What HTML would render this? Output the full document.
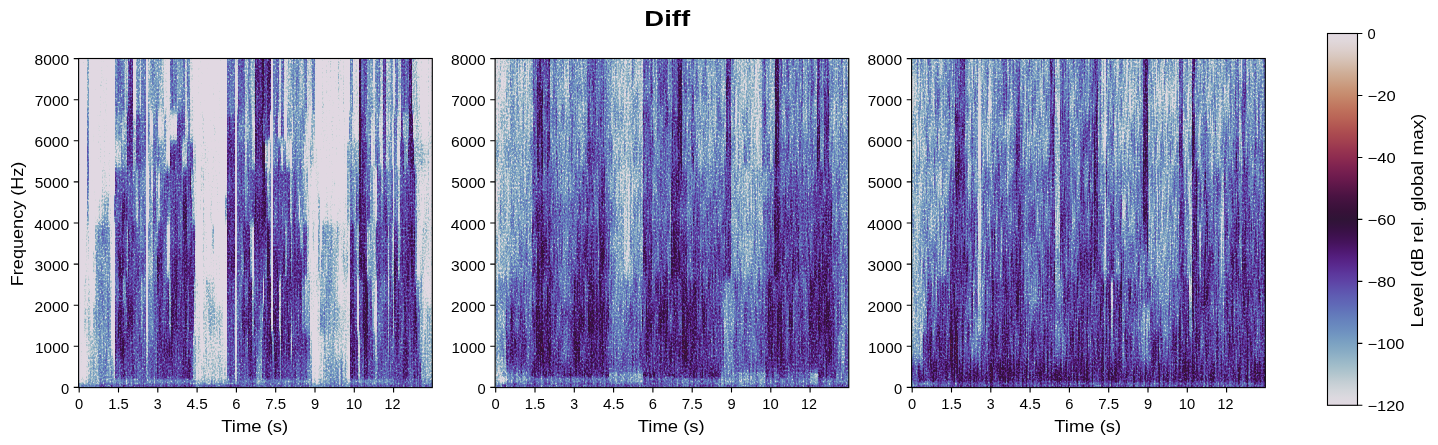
<!DOCTYPE html>
<html><head><meta charset="utf-8"><title>Diff</title>
<style>
html,body{margin:0;padding:0;background:#fff;overflow:hidden}
svg{display:block}
text{font-family:"Liberation Sans",sans-serif;fill:#000;opacity:0.995}
.t10{font-size:14.15px}
.t12{font-size:16.97px}
.tt{font-size:22.60px;font-weight:bold}
.ln{stroke:#000;stroke-width:1.11;fill:none}
</style></head>
<body>
<svg width="1438" height="445" viewBox="0 0 1438 445">
<defs>
<linearGradient id="cb" x1="0" y1="0" x2="0" y2="1">
<stop offset="0.0000" stop-color="#e2d9e2"/><stop offset="0.0208" stop-color="#e0d7da"/><stop offset="0.0417" stop-color="#ddd0ce"/><stop offset="0.0625" stop-color="#d8c7be"/><stop offset="0.0833" stop-color="#d4bcac"/><stop offset="0.1042" stop-color="#cfaf99"/><stop offset="0.1250" stop-color="#cca389"/><stop offset="0.1458" stop-color="#c99679"/><stop offset="0.1667" stop-color="#c68a6d"/><stop offset="0.1875" stop-color="#c27c63"/><stop offset="0.2083" stop-color="#be6f5b"/><stop offset="0.2292" stop-color="#b96356"/><stop offset="0.2500" stop-color="#b25652"/><stop offset="0.2708" stop-color="#aa4a50"/><stop offset="0.2917" stop-color="#a24050"/><stop offset="0.3125" stop-color="#983550"/><stop offset="0.3333" stop-color="#8e2c50"/><stop offset="0.3542" stop-color="#812450"/><stop offset="0.3750" stop-color="#741e4f"/><stop offset="0.3958" stop-color="#67194c"/><stop offset="0.4167" stop-color="#581647"/><stop offset="0.4375" stop-color="#4a1342"/><stop offset="0.4583" stop-color="#3f123d"/><stop offset="0.4792" stop-color="#361138"/><stop offset="0.5000" stop-color="#2f1436"/><stop offset="0.5208" stop-color="#351140"/><stop offset="0.5417" stop-color="#3d114d"/><stop offset="0.5625" stop-color="#45135c"/><stop offset="0.5833" stop-color="#4e186f"/><stop offset="0.6042" stop-color="#552081"/><stop offset="0.6250" stop-color="#592a8f"/><stop offset="0.6458" stop-color="#5c379c"/><stop offset="0.6667" stop-color="#5e43a5"/><stop offset="0.6875" stop-color="#5e51ad"/><stop offset="0.7083" stop-color="#5f5eb3"/><stop offset="0.7292" stop-color="#6069b7"/><stop offset="0.7500" stop-color="#6276ba"/><stop offset="0.7708" stop-color="#6682bd"/><stop offset="0.7917" stop-color="#6b8cbf"/><stop offset="0.8125" stop-color="#7297c1"/><stop offset="0.8333" stop-color="#7ca2c2"/><stop offset="0.8542" stop-color="#87abc4"/><stop offset="0.8750" stop-color="#95b5c7"/><stop offset="0.8958" stop-color="#a3beca"/><stop offset="0.9167" stop-color="#b3c6ce"/><stop offset="0.9375" stop-color="#c4ced4"/><stop offset="0.9583" stop-color="#d1d5da"/><stop offset="0.9792" stop-color="#dcd9df"/><stop offset="1.0000" stop-color="#e2d9e2"/>
</linearGradient>
<filter id="spec0" x="0" y="0" width="1" height="1" color-interpolation-filters="sRGB">
<feGaussianBlur in="SourceGraphic" stdDeviation="0.6 5" result="b0"/>
<feGaussianBlur in="b0" stdDeviation="5 0" result="bb"/>
<feComposite in="b0" in2="bb" operator="arithmetic" k1="0" k2="1.15" k3="-0.15" k4="0" result="b"/>
<feTurbulence type="fractalNoise" baseFrequency="0.53 0.02" numOctaves="2" seed="7" result="t1"/>
<feColorMatrix in="t1" type="matrix" values="1 0 0 0 0  1 0 0 0 0  1 0 0 0 0  0 0 0 0 1" result="s1"/>
<feTurbulence type="fractalNoise" baseFrequency="0.61 0.47" numOctaves="2" seed="11" result="t2"/>
<feColorMatrix in="t2" type="matrix" values="0 1 0 0 0  0 1 0 0 0  0 1 0 0 0  0 0 0 0 1" result="s2a"/>
<feComponentTransfer in="s2a" result="s2"><feFuncR type="table" tableValues="0.000 0.000 0.000 0.000 0.000 0.000 0.000 0.000 0.000 0.080 0.165 0.256 0.321 0.376 0.432 0.474 0.513 0.556 0.591 0.630 0.661 0.694 0.725 0.750 0.775 0.796 0.816 0.839 0.858 0.878 0.901 0.921 0.941 0.962 0.980 1.000 1.000 1.000 1.000 1.000 1.000"/><feFuncG type="table" tableValues="0.000 0.000 0.000 0.000 0.000 0.000 0.000 0.000 0.000 0.080 0.165 0.256 0.321 0.376 0.432 0.474 0.513 0.556 0.591 0.630 0.661 0.694 0.725 0.750 0.775 0.796 0.816 0.839 0.858 0.878 0.901 0.921 0.941 0.962 0.980 1.000 1.000 1.000 1.000 1.000 1.000"/><feFuncB type="table" tableValues="0.000 0.000 0.000 0.000 0.000 0.000 0.000 0.000 0.000 0.080 0.165 0.256 0.321 0.376 0.432 0.474 0.513 0.556 0.591 0.630 0.661 0.694 0.725 0.750 0.775 0.796 0.816 0.839 0.858 0.878 0.901 0.921 0.941 0.962 0.980 1.000 1.000 1.000 1.000 1.000 1.000"/></feComponentTransfer>
<feComposite in="b" in2="s1" operator="arithmetic" k1="0" k2="1" k3="0.3" k4="-0.15" result="c1"/>
<feComposite in="c1" in2="s2" operator="arithmetic" k1="0" k2="1" k3="0.3819" k4="-0.2431" result="c2"/>
<feComponentTransfer in="c2"><feFuncR type="table" tableValues="0.886 0.886 0.886 0.886 0.886 0.886 0.886 0.886 0.886 0.886 0.886 0.886 0.886 0.875 0.861 0.844 0.824 0.800 0.773 0.745 0.715 0.685 0.650 0.621 0.594 0.568 0.543 0.520 0.499 0.479 0.461 0.445 0.431 0.416 0.405 0.397 0.390 0.384 0.380 0.377 0.374 0.373 0.371 0.370 0.369 0.368 0.366 0.363 0.359 0.354 0.348 0.340 0.327 0.314 0.299 0.283 0.267 0.250 0.234 0.220 0.208 0.198 0.185 0.198 0.211 0.226 0.244 0.264 0.287 0.310 0.335 0.361 0.392"/><feFuncG type="table" tableValues="0.850 0.850 0.850 0.850 0.850 0.850 0.850 0.850 0.850 0.850 0.850 0.850 0.850 0.852 0.850 0.844 0.836 0.825 0.812 0.799 0.784 0.769 0.750 0.733 0.716 0.699 0.682 0.664 0.645 0.627 0.608 0.589 0.569 0.545 0.525 0.504 0.483 0.461 0.440 0.417 0.395 0.372 0.345 0.321 0.297 0.274 0.250 0.226 0.202 0.179 0.157 0.137 0.116 0.101 0.090 0.081 0.074 0.070 0.067 0.066 0.067 0.069 0.079 0.071 0.068 0.067 0.068 0.071 0.074 0.078 0.084 0.089 0.097"/><feFuncB type="table" tableValues="0.888 0.888 0.888 0.888 0.888 0.888 0.888 0.888 0.888 0.888 0.888 0.888 0.888 0.883 0.876 0.867 0.857 0.846 0.835 0.824 0.813 0.804 0.794 0.787 0.781 0.776 0.772 0.768 0.765 0.761 0.758 0.755 0.752 0.748 0.745 0.741 0.736 0.731 0.725 0.719 0.711 0.702 0.691 0.679 0.667 0.653 0.637 0.619 0.599 0.576 0.551 0.523 0.487 0.454 0.420 0.387 0.354 0.324 0.296 0.271 0.250 0.232 0.213 0.217 0.221 0.227 0.236 0.245 0.255 0.266 0.276 0.286 0.296"/></feComponentTransfer>
</filter>
<filter id="spec0b" x="0" y="0" width="1" height="1" color-interpolation-filters="sRGB">
<feGaussianBlur in="SourceGraphic" stdDeviation="0.6 1.3" result="b0"/>
<feGaussianBlur in="b0" stdDeviation="5 0" result="bb"/>
<feComposite in="b0" in2="bb" operator="arithmetic" k1="0" k2="1.15" k3="-0.15" k4="0" result="b"/>
<feTurbulence type="fractalNoise" baseFrequency="0.53 0.02" numOctaves="2" seed="7" result="t1"/>
<feColorMatrix in="t1" type="matrix" values="1 0 0 0 0  1 0 0 0 0  1 0 0 0 0  0 0 0 0 1" result="s1"/>
<feTurbulence type="fractalNoise" baseFrequency="0.61 0.47" numOctaves="2" seed="11" result="t2"/>
<feColorMatrix in="t2" type="matrix" values="0 1 0 0 0  0 1 0 0 0  0 1 0 0 0  0 0 0 0 1" result="s2a"/>
<feComponentTransfer in="s2a" result="s2"><feFuncR type="table" tableValues="0.000 0.000 0.000 0.000 0.000 0.000 0.000 0.000 0.000 0.080 0.165 0.256 0.321 0.376 0.432 0.474 0.513 0.556 0.591 0.630 0.661 0.694 0.725 0.750 0.775 0.796 0.816 0.839 0.858 0.878 0.901 0.921 0.941 0.962 0.980 1.000 1.000 1.000 1.000 1.000 1.000"/><feFuncG type="table" tableValues="0.000 0.000 0.000 0.000 0.000 0.000 0.000 0.000 0.000 0.080 0.165 0.256 0.321 0.376 0.432 0.474 0.513 0.556 0.591 0.630 0.661 0.694 0.725 0.750 0.775 0.796 0.816 0.839 0.858 0.878 0.901 0.921 0.941 0.962 0.980 1.000 1.000 1.000 1.000 1.000 1.000"/><feFuncB type="table" tableValues="0.000 0.000 0.000 0.000 0.000 0.000 0.000 0.000 0.000 0.080 0.165 0.256 0.321 0.376 0.432 0.474 0.513 0.556 0.591 0.630 0.661 0.694 0.725 0.750 0.775 0.796 0.816 0.839 0.858 0.878 0.901 0.921 0.941 0.962 0.980 1.000 1.000 1.000 1.000 1.000 1.000"/></feComponentTransfer>
<feComposite in="b" in2="s1" operator="arithmetic" k1="0" k2="1" k3="0.3" k4="-0.15" result="c1"/>
<feComposite in="c1" in2="s2" operator="arithmetic" k1="0" k2="1" k3="0.3819" k4="-0.2431" result="c2"/>
<feComponentTransfer in="c2"><feFuncR type="table" tableValues="0.886 0.886 0.886 0.886 0.886 0.886 0.886 0.886 0.886 0.886 0.886 0.886 0.886 0.875 0.861 0.844 0.824 0.800 0.773 0.745 0.715 0.685 0.650 0.621 0.594 0.568 0.543 0.520 0.499 0.479 0.461 0.445 0.431 0.416 0.405 0.397 0.390 0.384 0.380 0.377 0.374 0.373 0.371 0.370 0.369 0.368 0.366 0.363 0.359 0.354 0.348 0.340 0.327 0.314 0.299 0.283 0.267 0.250 0.234 0.220 0.208 0.198 0.185 0.198 0.211 0.226 0.244 0.264 0.287 0.310 0.335 0.361 0.392"/><feFuncG type="table" tableValues="0.850 0.850 0.850 0.850 0.850 0.850 0.850 0.850 0.850 0.850 0.850 0.850 0.850 0.852 0.850 0.844 0.836 0.825 0.812 0.799 0.784 0.769 0.750 0.733 0.716 0.699 0.682 0.664 0.645 0.627 0.608 0.589 0.569 0.545 0.525 0.504 0.483 0.461 0.440 0.417 0.395 0.372 0.345 0.321 0.297 0.274 0.250 0.226 0.202 0.179 0.157 0.137 0.116 0.101 0.090 0.081 0.074 0.070 0.067 0.066 0.067 0.069 0.079 0.071 0.068 0.067 0.068 0.071 0.074 0.078 0.084 0.089 0.097"/><feFuncB type="table" tableValues="0.888 0.888 0.888 0.888 0.888 0.888 0.888 0.888 0.888 0.888 0.888 0.888 0.888 0.883 0.876 0.867 0.857 0.846 0.835 0.824 0.813 0.804 0.794 0.787 0.781 0.776 0.772 0.768 0.765 0.761 0.758 0.755 0.752 0.748 0.745 0.741 0.736 0.731 0.725 0.719 0.711 0.702 0.691 0.679 0.667 0.653 0.637 0.619 0.599 0.576 0.551 0.523 0.487 0.454 0.420 0.387 0.354 0.324 0.296 0.271 0.250 0.232 0.213 0.217 0.221 0.227 0.236 0.245 0.255 0.266 0.276 0.286 0.296"/></feComponentTransfer>
</filter>
<clipPath id="cpb0"><rect x="78.60" y="371.00" width="353.70" height="16.60"/></clipPath>
<filter id="spec1" x="0" y="0" width="1" height="1" color-interpolation-filters="sRGB">
<feGaussianBlur in="SourceGraphic" stdDeviation="0.6 5" result="b0"/>
<feGaussianBlur in="b0" stdDeviation="5 0" result="bb"/>
<feComposite in="b0" in2="bb" operator="arithmetic" k1="0" k2="1.2" k3="-0.2" k4="0" result="b"/>
<feTurbulence type="fractalNoise" baseFrequency="0.53 0.03" numOctaves="2" seed="8" result="t1"/>
<feColorMatrix in="t1" type="matrix" values="1 0 0 0 0  1 0 0 0 0  1 0 0 0 0  0 0 0 0 1" result="s1"/>
<feTurbulence type="fractalNoise" baseFrequency="0.61 0.47" numOctaves="2" seed="12" result="t2"/>
<feColorMatrix in="t2" type="matrix" values="0 1 0 0 0  0 1 0 0 0  0 1 0 0 0  0 0 0 0 1" result="s2a"/>
<feComponentTransfer in="s2a" result="s2"><feFuncR type="table" tableValues="0.000 0.000 0.000 0.000 0.000 0.000 0.000 0.000 0.000 0.063 0.150 0.242 0.309 0.366 0.424 0.468 0.509 0.553 0.589 0.630 0.661 0.695 0.726 0.751 0.778 0.799 0.819 0.842 0.862 0.882 0.907 0.927 0.946 0.967 0.985 1.000 1.000 1.000 1.000 1.000 1.000"/><feFuncG type="table" tableValues="0.000 0.000 0.000 0.000 0.000 0.000 0.000 0.000 0.000 0.063 0.150 0.242 0.309 0.366 0.424 0.468 0.509 0.553 0.589 0.630 0.661 0.695 0.726 0.751 0.778 0.799 0.819 0.842 0.862 0.882 0.907 0.927 0.946 0.967 0.985 1.000 1.000 1.000 1.000 1.000 1.000"/><feFuncB type="table" tableValues="0.000 0.000 0.000 0.000 0.000 0.000 0.000 0.000 0.000 0.063 0.150 0.242 0.309 0.366 0.424 0.468 0.509 0.553 0.589 0.630 0.661 0.695 0.726 0.751 0.778 0.799 0.819 0.842 0.862 0.882 0.907 0.927 0.946 0.967 0.985 1.000 1.000 1.000 1.000 1.000 1.000"/></feComponentTransfer>
<feComposite in="b" in2="s1" operator="arithmetic" k1="0" k2="1" k3="0.4" k4="-0.2" result="c1"/>
<feComposite in="c1" in2="s2" operator="arithmetic" k1="0" k2="1" k3="0.3819" k4="-0.2431" result="c2"/>
<feComponentTransfer in="c2"><feFuncR type="table" tableValues="0.886 0.886 0.886 0.886 0.886 0.886 0.886 0.886 0.886 0.886 0.886 0.886 0.886 0.875 0.861 0.844 0.824 0.800 0.773 0.745 0.715 0.685 0.650 0.621 0.594 0.568 0.543 0.520 0.499 0.479 0.461 0.445 0.431 0.416 0.405 0.397 0.390 0.384 0.380 0.377 0.374 0.373 0.371 0.370 0.369 0.368 0.366 0.363 0.359 0.354 0.348 0.340 0.327 0.314 0.299 0.283 0.267 0.250 0.234 0.220 0.208 0.198 0.185 0.198 0.211 0.226 0.244 0.264 0.287 0.310 0.335 0.361 0.392"/><feFuncG type="table" tableValues="0.850 0.850 0.850 0.850 0.850 0.850 0.850 0.850 0.850 0.850 0.850 0.850 0.850 0.852 0.850 0.844 0.836 0.825 0.812 0.799 0.784 0.769 0.750 0.733 0.716 0.699 0.682 0.664 0.645 0.627 0.608 0.589 0.569 0.545 0.525 0.504 0.483 0.461 0.440 0.417 0.395 0.372 0.345 0.321 0.297 0.274 0.250 0.226 0.202 0.179 0.157 0.137 0.116 0.101 0.090 0.081 0.074 0.070 0.067 0.066 0.067 0.069 0.079 0.071 0.068 0.067 0.068 0.071 0.074 0.078 0.084 0.089 0.097"/><feFuncB type="table" tableValues="0.888 0.888 0.888 0.888 0.888 0.888 0.888 0.888 0.888 0.888 0.888 0.888 0.888 0.883 0.876 0.867 0.857 0.846 0.835 0.824 0.813 0.804 0.794 0.787 0.781 0.776 0.772 0.768 0.765 0.761 0.758 0.755 0.752 0.748 0.745 0.741 0.736 0.731 0.725 0.719 0.711 0.702 0.691 0.679 0.667 0.653 0.637 0.619 0.599 0.576 0.551 0.523 0.487 0.454 0.420 0.387 0.354 0.324 0.296 0.271 0.250 0.232 0.213 0.217 0.221 0.227 0.236 0.245 0.255 0.266 0.276 0.286 0.296"/></feComponentTransfer>
</filter>
<filter id="spec1b" x="0" y="0" width="1" height="1" color-interpolation-filters="sRGB">
<feGaussianBlur in="SourceGraphic" stdDeviation="0.6 1.3" result="b0"/>
<feGaussianBlur in="b0" stdDeviation="5 0" result="bb"/>
<feComposite in="b0" in2="bb" operator="arithmetic" k1="0" k2="1.2" k3="-0.2" k4="0" result="b"/>
<feTurbulence type="fractalNoise" baseFrequency="0.53 0.03" numOctaves="2" seed="8" result="t1"/>
<feColorMatrix in="t1" type="matrix" values="1 0 0 0 0  1 0 0 0 0  1 0 0 0 0  0 0 0 0 1" result="s1"/>
<feTurbulence type="fractalNoise" baseFrequency="0.61 0.47" numOctaves="2" seed="12" result="t2"/>
<feColorMatrix in="t2" type="matrix" values="0 1 0 0 0  0 1 0 0 0  0 1 0 0 0  0 0 0 0 1" result="s2a"/>
<feComponentTransfer in="s2a" result="s2"><feFuncR type="table" tableValues="0.000 0.000 0.000 0.000 0.000 0.000 0.000 0.000 0.000 0.063 0.150 0.242 0.309 0.366 0.424 0.468 0.509 0.553 0.589 0.630 0.661 0.695 0.726 0.751 0.778 0.799 0.819 0.842 0.862 0.882 0.907 0.927 0.946 0.967 0.985 1.000 1.000 1.000 1.000 1.000 1.000"/><feFuncG type="table" tableValues="0.000 0.000 0.000 0.000 0.000 0.000 0.000 0.000 0.000 0.063 0.150 0.242 0.309 0.366 0.424 0.468 0.509 0.553 0.589 0.630 0.661 0.695 0.726 0.751 0.778 0.799 0.819 0.842 0.862 0.882 0.907 0.927 0.946 0.967 0.985 1.000 1.000 1.000 1.000 1.000 1.000"/><feFuncB type="table" tableValues="0.000 0.000 0.000 0.000 0.000 0.000 0.000 0.000 0.000 0.063 0.150 0.242 0.309 0.366 0.424 0.468 0.509 0.553 0.589 0.630 0.661 0.695 0.726 0.751 0.778 0.799 0.819 0.842 0.862 0.882 0.907 0.927 0.946 0.967 0.985 1.000 1.000 1.000 1.000 1.000 1.000"/></feComponentTransfer>
<feComposite in="b" in2="s1" operator="arithmetic" k1="0" k2="1" k3="0.4" k4="-0.2" result="c1"/>
<feComposite in="c1" in2="s2" operator="arithmetic" k1="0" k2="1" k3="0.3819" k4="-0.2431" result="c2"/>
<feComponentTransfer in="c2"><feFuncR type="table" tableValues="0.886 0.886 0.886 0.886 0.886 0.886 0.886 0.886 0.886 0.886 0.886 0.886 0.886 0.875 0.861 0.844 0.824 0.800 0.773 0.745 0.715 0.685 0.650 0.621 0.594 0.568 0.543 0.520 0.499 0.479 0.461 0.445 0.431 0.416 0.405 0.397 0.390 0.384 0.380 0.377 0.374 0.373 0.371 0.370 0.369 0.368 0.366 0.363 0.359 0.354 0.348 0.340 0.327 0.314 0.299 0.283 0.267 0.250 0.234 0.220 0.208 0.198 0.185 0.198 0.211 0.226 0.244 0.264 0.287 0.310 0.335 0.361 0.392"/><feFuncG type="table" tableValues="0.850 0.850 0.850 0.850 0.850 0.850 0.850 0.850 0.850 0.850 0.850 0.850 0.850 0.852 0.850 0.844 0.836 0.825 0.812 0.799 0.784 0.769 0.750 0.733 0.716 0.699 0.682 0.664 0.645 0.627 0.608 0.589 0.569 0.545 0.525 0.504 0.483 0.461 0.440 0.417 0.395 0.372 0.345 0.321 0.297 0.274 0.250 0.226 0.202 0.179 0.157 0.137 0.116 0.101 0.090 0.081 0.074 0.070 0.067 0.066 0.067 0.069 0.079 0.071 0.068 0.067 0.068 0.071 0.074 0.078 0.084 0.089 0.097"/><feFuncB type="table" tableValues="0.888 0.888 0.888 0.888 0.888 0.888 0.888 0.888 0.888 0.888 0.888 0.888 0.888 0.883 0.876 0.867 0.857 0.846 0.835 0.824 0.813 0.804 0.794 0.787 0.781 0.776 0.772 0.768 0.765 0.761 0.758 0.755 0.752 0.748 0.745 0.741 0.736 0.731 0.725 0.719 0.711 0.702 0.691 0.679 0.667 0.653 0.637 0.619 0.599 0.576 0.551 0.523 0.487 0.454 0.420 0.387 0.354 0.324 0.296 0.271 0.250 0.232 0.213 0.217 0.221 0.227 0.236 0.245 0.255 0.266 0.276 0.286 0.296"/></feComponentTransfer>
</filter>
<clipPath id="cpb1"><rect x="495.10" y="371.00" width="353.70" height="16.60"/></clipPath>
<filter id="spec2" x="0" y="0" width="1" height="1" color-interpolation-filters="sRGB">
<feGaussianBlur in="SourceGraphic" stdDeviation="0.6 5" result="b0"/>
<feGaussianBlur in="b0" stdDeviation="5 0" result="bb"/>
<feComposite in="b0" in2="bb" operator="arithmetic" k1="0" k2="1.25" k3="-0.25" k4="0" result="b"/>
<feTurbulence type="fractalNoise" baseFrequency="0.53 0.025" numOctaves="2" seed="9" result="t1"/>
<feColorMatrix in="t1" type="matrix" values="1 0 0 0 0  1 0 0 0 0  1 0 0 0 0  0 0 0 0 1" result="s1"/>
<feTurbulence type="fractalNoise" baseFrequency="0.61 0.47" numOctaves="2" seed="13" result="t2"/>
<feColorMatrix in="t2" type="matrix" values="0 1 0 0 0  0 1 0 0 0  0 1 0 0 0  0 0 0 0 1" result="s2a"/>
<feComponentTransfer in="s2a" result="s2"><feFuncR type="table" tableValues="0.000 0.000 0.000 0.000 0.000 0.000 0.000 0.000 0.000 0.051 0.142 0.238 0.306 0.365 0.425 0.470 0.511 0.555 0.591 0.631 0.662 0.695 0.727 0.751 0.777 0.798 0.818 0.841 0.861 0.881 0.905 0.925 0.944 0.965 0.985 1.000 1.000 1.000 1.000 1.000 1.000"/><feFuncG type="table" tableValues="0.000 0.000 0.000 0.000 0.000 0.000 0.000 0.000 0.000 0.051 0.142 0.238 0.306 0.365 0.425 0.470 0.511 0.555 0.591 0.631 0.662 0.695 0.727 0.751 0.777 0.798 0.818 0.841 0.861 0.881 0.905 0.925 0.944 0.965 0.985 1.000 1.000 1.000 1.000 1.000 1.000"/><feFuncB type="table" tableValues="0.000 0.000 0.000 0.000 0.000 0.000 0.000 0.000 0.000 0.051 0.142 0.238 0.306 0.365 0.425 0.470 0.511 0.555 0.591 0.631 0.662 0.695 0.727 0.751 0.777 0.798 0.818 0.841 0.861 0.881 0.905 0.925 0.944 0.965 0.985 1.000 1.000 1.000 1.000 1.000 1.000"/></feComponentTransfer>
<feComposite in="b" in2="s1" operator="arithmetic" k1="0" k2="1" k3="0.5" k4="-0.25" result="c1"/>
<feComposite in="c1" in2="s2" operator="arithmetic" k1="0" k2="1" k3="0.3819" k4="-0.2431" result="c2"/>
<feComponentTransfer in="c2"><feFuncR type="table" tableValues="0.886 0.886 0.886 0.886 0.886 0.886 0.886 0.886 0.886 0.886 0.886 0.886 0.886 0.875 0.861 0.844 0.824 0.800 0.773 0.745 0.715 0.685 0.650 0.621 0.594 0.568 0.543 0.520 0.499 0.479 0.461 0.445 0.431 0.416 0.405 0.397 0.390 0.384 0.380 0.377 0.374 0.373 0.371 0.370 0.369 0.368 0.366 0.363 0.359 0.354 0.348 0.340 0.327 0.314 0.299 0.283 0.267 0.250 0.234 0.220 0.208 0.198 0.185 0.198 0.211 0.226 0.244 0.264 0.287 0.310 0.335 0.361 0.392"/><feFuncG type="table" tableValues="0.850 0.850 0.850 0.850 0.850 0.850 0.850 0.850 0.850 0.850 0.850 0.850 0.850 0.852 0.850 0.844 0.836 0.825 0.812 0.799 0.784 0.769 0.750 0.733 0.716 0.699 0.682 0.664 0.645 0.627 0.608 0.589 0.569 0.545 0.525 0.504 0.483 0.461 0.440 0.417 0.395 0.372 0.345 0.321 0.297 0.274 0.250 0.226 0.202 0.179 0.157 0.137 0.116 0.101 0.090 0.081 0.074 0.070 0.067 0.066 0.067 0.069 0.079 0.071 0.068 0.067 0.068 0.071 0.074 0.078 0.084 0.089 0.097"/><feFuncB type="table" tableValues="0.888 0.888 0.888 0.888 0.888 0.888 0.888 0.888 0.888 0.888 0.888 0.888 0.888 0.883 0.876 0.867 0.857 0.846 0.835 0.824 0.813 0.804 0.794 0.787 0.781 0.776 0.772 0.768 0.765 0.761 0.758 0.755 0.752 0.748 0.745 0.741 0.736 0.731 0.725 0.719 0.711 0.702 0.691 0.679 0.667 0.653 0.637 0.619 0.599 0.576 0.551 0.523 0.487 0.454 0.420 0.387 0.354 0.324 0.296 0.271 0.250 0.232 0.213 0.217 0.221 0.227 0.236 0.245 0.255 0.266 0.276 0.286 0.296"/></feComponentTransfer>
</filter>
<filter id="spec2b" x="0" y="0" width="1" height="1" color-interpolation-filters="sRGB">
<feGaussianBlur in="SourceGraphic" stdDeviation="0.6 1.3" result="b0"/>
<feGaussianBlur in="b0" stdDeviation="5 0" result="bb"/>
<feComposite in="b0" in2="bb" operator="arithmetic" k1="0" k2="1.25" k3="-0.25" k4="0" result="b"/>
<feTurbulence type="fractalNoise" baseFrequency="0.53 0.025" numOctaves="2" seed="9" result="t1"/>
<feColorMatrix in="t1" type="matrix" values="1 0 0 0 0  1 0 0 0 0  1 0 0 0 0  0 0 0 0 1" result="s1"/>
<feTurbulence type="fractalNoise" baseFrequency="0.61 0.47" numOctaves="2" seed="13" result="t2"/>
<feColorMatrix in="t2" type="matrix" values="0 1 0 0 0  0 1 0 0 0  0 1 0 0 0  0 0 0 0 1" result="s2a"/>
<feComponentTransfer in="s2a" result="s2"><feFuncR type="table" tableValues="0.000 0.000 0.000 0.000 0.000 0.000 0.000 0.000 0.000 0.051 0.142 0.238 0.306 0.365 0.425 0.470 0.511 0.555 0.591 0.631 0.662 0.695 0.727 0.751 0.777 0.798 0.818 0.841 0.861 0.881 0.905 0.925 0.944 0.965 0.985 1.000 1.000 1.000 1.000 1.000 1.000"/><feFuncG type="table" tableValues="0.000 0.000 0.000 0.000 0.000 0.000 0.000 0.000 0.000 0.051 0.142 0.238 0.306 0.365 0.425 0.470 0.511 0.555 0.591 0.631 0.662 0.695 0.727 0.751 0.777 0.798 0.818 0.841 0.861 0.881 0.905 0.925 0.944 0.965 0.985 1.000 1.000 1.000 1.000 1.000 1.000"/><feFuncB type="table" tableValues="0.000 0.000 0.000 0.000 0.000 0.000 0.000 0.000 0.000 0.051 0.142 0.238 0.306 0.365 0.425 0.470 0.511 0.555 0.591 0.631 0.662 0.695 0.727 0.751 0.777 0.798 0.818 0.841 0.861 0.881 0.905 0.925 0.944 0.965 0.985 1.000 1.000 1.000 1.000 1.000 1.000"/></feComponentTransfer>
<feComposite in="b" in2="s1" operator="arithmetic" k1="0" k2="1" k3="0.5" k4="-0.25" result="c1"/>
<feComposite in="c1" in2="s2" operator="arithmetic" k1="0" k2="1" k3="0.3819" k4="-0.2431" result="c2"/>
<feComponentTransfer in="c2"><feFuncR type="table" tableValues="0.886 0.886 0.886 0.886 0.886 0.886 0.886 0.886 0.886 0.886 0.886 0.886 0.886 0.875 0.861 0.844 0.824 0.800 0.773 0.745 0.715 0.685 0.650 0.621 0.594 0.568 0.543 0.520 0.499 0.479 0.461 0.445 0.431 0.416 0.405 0.397 0.390 0.384 0.380 0.377 0.374 0.373 0.371 0.370 0.369 0.368 0.366 0.363 0.359 0.354 0.348 0.340 0.327 0.314 0.299 0.283 0.267 0.250 0.234 0.220 0.208 0.198 0.185 0.198 0.211 0.226 0.244 0.264 0.287 0.310 0.335 0.361 0.392"/><feFuncG type="table" tableValues="0.850 0.850 0.850 0.850 0.850 0.850 0.850 0.850 0.850 0.850 0.850 0.850 0.850 0.852 0.850 0.844 0.836 0.825 0.812 0.799 0.784 0.769 0.750 0.733 0.716 0.699 0.682 0.664 0.645 0.627 0.608 0.589 0.569 0.545 0.525 0.504 0.483 0.461 0.440 0.417 0.395 0.372 0.345 0.321 0.297 0.274 0.250 0.226 0.202 0.179 0.157 0.137 0.116 0.101 0.090 0.081 0.074 0.070 0.067 0.066 0.067 0.069 0.079 0.071 0.068 0.067 0.068 0.071 0.074 0.078 0.084 0.089 0.097"/><feFuncB type="table" tableValues="0.888 0.888 0.888 0.888 0.888 0.888 0.888 0.888 0.888 0.888 0.888 0.888 0.888 0.883 0.876 0.867 0.857 0.846 0.835 0.824 0.813 0.804 0.794 0.787 0.781 0.776 0.772 0.768 0.765 0.761 0.758 0.755 0.752 0.748 0.745 0.741 0.736 0.731 0.725 0.719 0.711 0.702 0.691 0.679 0.667 0.653 0.637 0.619 0.599 0.576 0.551 0.523 0.487 0.454 0.420 0.387 0.354 0.324 0.296 0.271 0.250 0.232 0.213 0.217 0.221 0.227 0.236 0.245 0.255 0.266 0.276 0.286 0.296"/></feComponentTransfer>
</filter>
<clipPath id="cpb2"><rect x="911.60" y="371.00" width="353.70" height="16.60"/></clipPath>
<clipPath id="cp0"><rect x="78.60" y="58.50" width="353.70" height="329.10"/></clipPath>
<clipPath id="cp1"><rect x="495.10" y="58.50" width="353.70" height="329.10"/></clipPath>
<clipPath id="cp2"><rect x="911.60" y="58.50" width="353.70" height="329.10"/></clipPath>
</defs>
<rect width="1438" height="445" fill="#fff"/>
<text class="tt" x="667.2" y="26.3" text-anchor="middle" textLength="45.8" lengthAdjust="spacingAndGlyphs">Diff</text>
<g id="panel1">
<rect x="78.60" y="58.50" width="353.70" height="329.10" fill="#b9c4d6"/>
<g clip-path="url(#cp0)"><g filter="url(#spec0)">
<rect x="62" y="42" width="388" height="363" fill="#606060"/>
<path fill="#101010" d="M79 42H87V113H79zM89 42H99V113H89zM107 42H115V113H107zM193 42H198V113H193zM203 42H227V113H203zM271 42H273V113H271zM79 113H87V140H79zM89 113H98V140H89zM109 113H115V140H109zM79 140H87V168H79zM89 140H98V168H89zM109 140H115V168H109zM79 168H87V195H79zM89 168H102V195H89zM110 168H115V195H110zM79 195H87V223H79zM89 195H95V223H89zM111 195H114V223H111zM79 223H86V250H79zM112 223H115V250H112zM79 250H86V278H79zM111 250H115V278H111z"/>
<path fill="#191919" d="M99 42H107V113H99zM133 42H136V113H133zM146 42H148V113H146zM198 42H203V113H198zM315 42H322V113H315zM323 42H330V113H323zM331 42H338V113H331zM339 42H343V113H339zM344 42H350V113H344zM420 42H428V113H420zM429 42H449V113H429zM98 113H109V140H98zM146 113H148V140H146zM194 113H202V140H194zM204 113H227V140H204zM270 113H273V140H270zM309 113H311V140H309zM315 113H349V140H315zM98 140H109V168H98zM146 140H148V168H146zM196 140H200V168H196zM206 140H227V168H206zM268 140H270V168H268zM271 140H273V168H271zM290 140H292V168H290zM318 140H344V168H318zM345 140H347V168H345zM107 168H110V195H107zM148 168H149V195H148zM196 168H201V195H196zM204 168H227V195H204zM271 168H273V195H271zM312 168H338V195H312zM339 168H347V195H339zM95 195H99V223H95zM148 195H149V223H148zM197 195H203V223H197zM204 195H210V223H204zM212 195H225V223H212zM271 195H273V223H271zM320 195H325V223H320zM333 195H343V223H333zM89 223H95V250H89zM146 223H148V250H146zM196 223H203V250H196zM205 223H212V250H205zM214 223H227V250H214zM89 250H93V278H89zM146 250H148V278H146zM196 250H203V278H196zM205 250H210V278H205zM212 250H227V278H212zM271 250H273V278H271zM79 278H84V305H79zM112 278H115V305H112zM200 278H203V305H200zM217 278H227V305H217zM432 278H449V305H432zM79 305H84V333H79zM111 305H115V333H111zM200 305H203V333H200zM223 305H227V333H223zM79 333H86V358H79zM113 333H115V358H113zM312 333H318V358H312zM79 358H86V379H79z"/>
<path fill="#222222" d="M422 113H449V140H422zM310 195H318V223H310zM309 250H318V278H309zM90 278H95V305H90zM146 278H148V305H146zM146 305H148V333H146zM312 358H318V379H312z"/>
<path fill="#2a2a2a" d="M164 42H170V113H164zM322 42H323V113H322zM330 42H331V113H330zM343 42H344V113H343zM428 42H429V113H428zM150 113H153V140H150zM166 113H177V140H166zM202 113H204V140H202zM235 113H237V140H235zM284 113H287V140H284zM166 140H170V168H166zM200 140H206V168H200zM281 140H283V168H281zM314 140H318V168H314zM102 168H106V195H102zM146 168H148V195H146zM194 168H196V195H194zM235 168H237V195H235zM308 168H312V195H308zM338 168H339V195H338zM375 168H377V195H375zM420 168H428V195H420zM429 168H449V195H429zM146 195H148V223H146zM195 195H197V223H195zM210 195H212V223H210zM235 195H237V223H235zM325 195H333V223H325zM343 195H347V223H343zM420 195H428V223H420zM429 195H449V223H429zM235 223H237V250H235zM271 223H273V250H271zM309 223H318V250H309zM320 223H322V250H320zM428 223H449V250H428zM210 250H212V278H210zM235 250H237V278H235zM320 250H321V278H320zM428 250H449V278H428zM84 278H88V305H84zM310 278H318V305H310zM338 278H343V305H338zM347 278H350V305H347zM427 278H432V305H427zM90 305H93V333H90zM196 305H200V333H196zM310 305H318V333H310zM349 305H350V333H349zM432 305H449V333H432zM200 333H203V358H200zM223 333H227V358H223zM235 333H237V358H235zM348 333H350V358H348z"/>
<path fill="#333333" d="M190 42H193V113H190zM284 42H288V113H284zM338 42H339V113H338zM353 42H359V113H353zM417 42H420V113H417zM158 113H164V140H158zM190 113H194V140H190zM352 113H359V140H352zM417 113H422V140H417zM235 140H237V168H235zM304 140H310V168H304zM344 140H345V168H344zM397 140H400V168H397zM429 140H449V168H429zM158 168H160V195H158zM201 168H204V195H201zM109 195H111V223H109zM203 195H204V223H203zM299 195H300V223H299zM307 195H310V223H307zM375 195H377V223H375zM86 223H89V250H86zM167 223H170V250H167zM203 223H205V250H203zM338 223H343V250H338zM348 223H350V250H348zM417 223H422V250H417zM86 250H89V278H86zM203 250H205V278H203zM252 250H254V278H252zM338 250H343V278H338zM348 250H350V278H348zM417 250H422V278H417zM196 278H200V305H196zM203 278H206V305H203zM214 278H217V305H214zM235 278H237V305H235zM263 278H264V305H263zM318 278H320V305H318zM343 278H347V305H343zM357 278H359V305H357zM375 278H377V305H375zM422 278H427V305H422zM84 305H88V333H84zM345 305H349V333H345zM374 305H377V333H374zM86 333H90V358H86zM203 333H205V358H203zM215 333H219V358H215zM318 333H323V358H318zM345 333H348V358H345zM200 358H203V379H200zM223 358H227V379H223zM348 358H350V379H348z"/>
<path fill="#3c3c3c" d="M140 42H141V113H140zM185 42H187V113H185zM235 42H238V113H235zM279 42H281V113H279zM307 42H312V113H307zM373 42H375V113H373zM393 42H395V113H393zM185 113H188V140H185zM252 113H255V140H252zM278 113H281V140H278zM292 113H293V140H292zM305 113H309V140H305zM371 113H375V140H371zM379 113H383V140H379zM386 113H390V140H386zM392 113H394V140H392zM397 113H401V140H397zM413 113H417V140H413zM115 140H121V168H115zM193 140H196V168H193zM286 140H290V168H286zM371 140H375V168H371zM380 140H383V168H380zM392 140H394V168H392zM423 140H429V168H423zM106 168H107V195H106zM151 168H153V195H151zM373 168H375V195H373zM393 168H394V195H393zM417 168H420V195H417zM428 168H429V195H428zM99 195H104V223H99zM393 195H394V223H393zM417 195H420V223H417zM428 195H429V223H428zM110 223H112V250H110zM195 223H196V250H195zM252 223H254V250H252zM343 223H348V250H343zM422 223H428V250H422zM93 250H96V278H93zM110 250H111V278H110zM167 250H170V278H167zM195 250H196V278H195zM422 250H428V278H422zM88 278H90V305H88zM271 278H273V305H271zM88 305H90V333H88zM203 305H208V333H203zM215 305H223V333H215zM235 305H237V333H235zM271 305H273V333H271zM318 305H320V333H318zM340 305H345V333H340zM357 305H359V333H357zM423 305H427V333H423zM111 333H113V358H111zM196 333H200V358H196zM205 333H215V358H205zM219 333H223V358H219zM335 333H345V358H335zM432 333H449V358H432zM86 358H90V379H86zM196 358H200V379H196zM203 358H210V379H203zM235 358H237V379H235zM318 358H323V379H318zM346 358H348V379H346zM79 379H86V384H79zM312 379H318V384H312z"/>
<path fill="#454545" d="M194 278H196V305H194zM206 278H214V305H206zM194 305H196V333H194zM210 358H223V379H210z"/>
<path fill="#4e4e4e" d="M87 42H89V113H87zM159 42H164V113H159zM380 42H383V113H380zM398 42H401V113H398zM412 42H417V113H412zM122 113H127V140H122zM245 113H247V140H245zM182 140H187V168H182zM245 140H247V168H245zM252 140H255V168H252zM265 140H268V168H265zM310 140H314V168H310zM386 140H389V168H386zM417 140H423V168H417zM305 168H308V195H305zM347 168H350V195H347zM398 168H400V195H398zM373 195H375V223H373zM398 195H400V223H398zM212 223H214V250H212zM333 223H338V250H333zM367 223H370V250H367zM392 223H394V250H392zM151 250H153V278H151zM318 250H320V278H318zM333 250H338V278H333zM343 250H348V278H343zM110 278H112V305H110zM279 278H281V305H279zM333 278H338V305H333zM388 278H389V305H388zM208 305H215V333H208zM279 305H281V333H279zM335 305H340V333H335zM427 305H432V333H427zM90 333H98V358H90zM146 333H148V358H146zM310 333H312V358H310zM323 333H330V358H323zM358 333H360V358H358zM375 333H377V358H375zM423 333H427V358H423z"/>
<path fill="#575757" d="M125 42H128V113H125zM148 42H152V113H148zM245 42H248V113H245zM251 42H255V113H251zM288 42H293V113H288zM299 42H304V113H299zM386 42H390V113H386zM133 113H136V140H133zM311 113H315V140H311zM403 113H409V140H403zM133 140H136V168H133zM148 140H153V168H148zM347 140H354V168H347zM414 140H417V168H414zM136 168H138V195H136zM156 168H158V195H156zM191 168H194V195H191zM267 168H269V195H267zM290 168H292V195H290zM87 195H89V223H87zM104 195H109V223H104zM136 195H138V223H136zM151 195H153V223H151zM158 195H160V223H158zM192 195H195V223H192zM290 195H292V223H290zM304 195H307V223H304zM318 195H320V223H318zM347 195H350V223H347zM95 223H98V250H95zM151 223H153V250H151zM307 223H309V250H307zM373 223H376V250H373zM388 223H389V250H388zM148 250H151V278H148zM307 250H309V278H307zM367 250H370V278H367zM373 250H376V278H373zM388 250H389V278H388zM392 250H394V278H392zM95 278H98V305H95zM252 278H254V305H252zM305 278H310V305H305zM320 278H325V305H320zM372 278H375V305H372zM419 278H422V305H419zM93 305H98V333H93zM109 305H111V333H109zM388 305H389V333H388zM291 333H292V358H291zM330 333H335V358H330zM427 333H432V358H427zM90 358H98V379H90zM113 358H115V379H113zM193 358H196V379H193zM310 358H312V379H310zM323 358H330V379H323zM343 358H345V379H343zM424 358H449V379H424zM86 379H98V384H86zM196 379H227V384H196zM235 379H237V384H235zM318 379H330V384H318zM348 379H350V384H348z"/>
<path fill="#606060" d="M62 42H79V113H62zM62 113H79V140H62zM164 113H166V140H164zM62 140H79V168H62zM354 140H359V168H354zM62 168H79V195H62zM354 168H356V195H354zM62 195H79V223H62zM354 195H356V223H354zM62 223H79V250H62zM127 223H128V250H127zM318 223H320V250H318zM322 223H333V250H322zM357 223H359V250H357zM62 250H79V278H62zM321 250H333V278H321zM357 250H359V278H357zM62 278H79V305H62zM325 278H333V305H325zM62 305H79V333H62zM305 305H310V333H305zM330 305H335V333H330zM372 305H374V333H372zM420 305H423V333H420zM62 333H79V358H62zM193 333H196V358H193zM420 333H423V358H420zM62 358H79V379H62zM109 358H113V379H109zM330 358H343V379H330zM358 358H360V379H358zM62 379H79V384H62zM256 379H262V384H256zM62 384H79V404H62z"/>
<path fill="#686868" d="M136 42H140V113H136zM152 42H159V113H152zM177 42H182V113H177zM293 42H299V113H293zM312 42H315V113H312zM350 42H353V113H350zM367 42H373V113H367zM390 42H393V113H390zM87 113H89V140H87zM115 113H122V140H115zM148 113H150V140H148zM247 113H252V140H247zM287 113H292V140H287zM299 113H305V140H299zM349 113H352V140H349zM366 113H371V140H366zM390 113H392V140H390zM121 140H127V168H121zM159 140H166V168H159zM270 140H271V168H270zM298 140H304V168H298zM389 140H392V168H389zM404 140H408V168H404zM87 168H89V195H87zM140 168H142V195H140zM149 168H151V195H149zM245 168H248V195H245zM302 168H305V195H302zM370 168H373V195H370zM381 168H383V195H381zM149 195H151V223H149zM156 195H158V223H156zM225 195H227V223H225zM370 195H373V223H370zM415 195H417V223H415zM166 223H167V250H166zM250 223H252V250H250zM291 223H292V250H291zM300 223H303V250H300zM370 223H373V250H370zM398 223H400V250H398zM96 250H110V278H96zM250 250H252V278H250zM285 250H287V278H285zM291 250H292V278H291zM370 250H373V278H370zM398 250H400V278H398zM141 278H143V305H141zM169 278H171V305H169zM393 278H394V305H393zM252 305H254V333H252zM262 305H263V333H262zM320 305H330V333H320zM393 305H394V333H393zM98 333H111V358H98zM260 333H262V358H260zM280 333H281V358H280zM388 333H389V358H388zM98 358H109V379H98zM146 358H148V379H146zM260 358H262V379H260zM345 358H346V379H345zM421 358H424V379H421zM98 379H115V384H98zM146 379H156V384H146zM190 379H196V384H190zM305 379H312V384H305zM330 379H348V384H330zM422 379H449V384H422z"/>
<path fill="#717171" d="M187 42H190V113H187zM248 42H251V113H248zM273 42H276V113H273zM304 42H307V113H304zM375 42H380V113H375zM153 113H158V140H153zM293 113H299V140H293zM375 113H379V140H375zM87 140H89V168H87zM273 140H278V168H273zM283 140H286V168H283zM292 140H298V168H292zM367 140H371V168H367zM394 140H397V168H394zM297 168H302V195H297zM350 168H354V195H350zM394 168H398V195H394zM415 168H417V195H415zM140 195H143V223H140zM300 195H304V223H300zM381 195H383V223H381zM98 223H110V250H98zM148 223H151V250H148zM285 223H287V250H285zM415 223H417V250H415zM415 250H417V278H415zM98 278H110V305H98zM123 278H126V305H123zM148 278H153V305H148zM302 278H305V305H302zM98 305H109V333H98zM141 305H143V333H141zM375 358H377V379H375zM115 379H138V384H115zM156 379H190V384H156zM359 379H394V384H359zM309 384H318V404H309z"/>
<path fill="#7a7a7a" d="M115 42H125V113H115zM141 42H146V113H141zM170 42H177V113H170zM182 42H185V113H182zM227 42H235V113H227zM281 42H284V113H281zM395 42H398V113H395zM140 113H146V140H140zM188 113H190V140H188zM237 113H245V140H237zM273 113H275V140H273zM394 113H397V140H394zM153 140H159V168H153zM247 140H252V168H247zM375 140H380V168H375zM133 168H136V195H133zM142 168H146V195H142zM160 168H164V195H160zM269 168H271V195H269zM356 168H359V195H356zM387 168H391V195H387zM133 195H136V223H133zM143 195H146V223H143zM168 195H170V223H168zM245 195H248V223H245zM268 195H271V223H268zM297 195H299V223H297zM350 195H354V223H350zM387 195H391V223H387zM394 195H398V223H394zM140 223H146V250H140zM153 223H158V250H153zM354 223H357V250H354zM127 250H128V278H127zM153 250H157V278H153zM166 250H167V278H166zM242 250H244V278H242zM270 250H271V278H270zM143 278H146V305H143zM381 278H385V305H381zM416 278H419V305H416zM148 305H153V333H148zM169 305H171V333H169zM260 305H262V333H260zM291 305H292V333H291zM302 305H305V333H302zM272 333H274V358H272zM373 333H375V358H373zM393 333H394V358H393zM256 358H260V379H256zM280 358H281V379H280zM307 358H310V379H307zM227 379H235V384H227zM262 379H305V384H262zM350 379H359V384H350zM79 384H98V404H79zM318 384H350V404H318z"/>
<path fill="#8c8c8c" d="M238 42H245V113H238zM276 42H279V113H276zM361 42H367V113H361zM401 42H409V113H401zM177 113H185V140H177zM281 113H284V140H281zM139 140H146V168H139zM187 140H193V168H187zM237 140H245V168H237zM278 140H281V168H278zM115 168H121V195H115zM138 168H140V195H138zM153 168H156V195H153zM168 168H172V195H168zM182 168H183V195H182zM187 168H188V195H187zM237 168H245V195H237zM248 168H252V195H248zM273 168H278V195H273zM283 168H287V195H283zM292 168H297V195H292zM366 168H370V195H366zM377 168H381V195H377zM391 168H393V195H391zM114 195H120V223H114zM138 195H140V223H138zM153 195H156V223H153zM160 195H164V223H160zM356 195H359V223H356zM377 195H381V223H377zM391 195H393V223H391zM115 223H118V250H115zM137 223H140V250H137zM162 223H166V250H162zM237 223H243V250H237zM381 223H385V250H381zM389 223H392V250H389zM140 250H146V278H140zM162 250H166V278H162zM354 250H357V278H354zM115 278H119V305H115zM136 278H141V305H136zM153 278H157V305H153zM163 278H166V305H163zM237 278H242V305H237zM368 278H372V305H368zM377 278H381V305H377zM143 305H146V333H143zM153 305H157V333H153zM237 305H242V333H237zM377 305H385V333H377zM417 305H420V333H417zM142 333H146V358H142zM148 333H157V358H148zM245 333H248V358H245zM256 333H260V358H256zM307 333H310V358H307zM417 333H420V358H417zM148 358H157V379H148zM138 379H146V384H138zM237 379H256V384H237zM394 379H422V384H394zM193 384H227V404H193zM256 384H309V404H256zM422 384H449V404H422z"/>
<path fill="#959595" d="M383 42H386V113H383zM136 113H140V140H136zM263 113H267V140H263zM275 113H278V140H275zM383 113H386V140H383zM383 140H386V168H383zM125 168H133V195H125zM164 168H168V195H164zM177 168H182V195H177zM252 168H255V195H252zM265 168H267V195H265zM278 168H283V195H278zM287 168H290V195H287zM383 168H387V195H383zM400 168H406V195H400zM128 195H133V223H128zM164 195H168V223H164zM177 195H183V223H177zM187 195H188V223H187zM237 195H245V223H237zM248 195H252V223H248zM273 195H287V223H273zM292 195H297V223H292zM366 195H370V223H366zM123 223H127V250H123zM134 223H137V250H134zM170 223H174V250H170zM178 223H182V250H178zM270 223H271V250H270zM303 223H307V250H303zM115 250H118V278H115zM134 250H140V278H134zM237 250H242V278H237zM262 250H267V278H262zM302 250H307V278H302zM381 250H385V278H381zM389 250H392V278H389zM187 278H189V305H187zM245 278H248V305H245zM254 278H256V305H254zM354 278H357V305H354zM359 278H363V305H359zM385 278H388V305H385zM389 278H393V305H389zM115 305H118V333H115zM124 305H127V333H124zM136 305H141V333H136zM187 305H189V333H187zM227 305H235V333H227zM256 305H260V333H256zM133 333H137V358H133zM227 333H235V358H227zM237 333H242V358H237zM252 333H256V358H252zM377 333H385V358H377zM389 333H393V358H389zM399 333H403V358H399zM137 358H146V379H137zM191 358H193V379H191zM227 358H235V379H227zM237 358H242V379H237zM272 358H274V379H272zM291 358H307V379H291zM360 358H364V379H360zM377 358H394V379H377zM399 358H403V379H399zM408 358H413V379H408zM418 358H421V379H418zM98 384H115V404H98zM350 384H422V404H350z"/>
<path fill="#9e9e9e" d="M264 42H267V113H264zM227 113H235V140H227zM361 113H366V140H361zM401 113H403V140H401zM136 140H139V168H136zM170 140H182V168H170zM400 140H404V168H400zM121 168H125V195H121zM172 168H177V195H172zM188 168H191V195H188zM227 168H235V195H227zM406 168H410V195H406zM120 195H122V223H120zM125 195H128V223H125zM170 195H177V223H170zM188 195H192V223H188zM252 195H255V223H252zM266 195H268V223H266zM287 195H290V223H287zM383 195H387V223H383zM400 195H406V223H400zM128 223H134V250H128zM182 223H184V250H182zM187 223H190V250H187zM278 223H283V250H278zM287 223H291V250H287zM292 223H297V250H292zM365 223H367V250H365zM376 223H381V250H376zM385 223H388V250H385zM400 223H404V250H400zM124 250H127V278H124zM178 250H182V278H178zM376 250H381V278H376zM133 278H136V305H133zM182 278H183V305H182zM227 278H235V305H227zM256 278H263V305H256zM264 278H267V305H264zM292 278H297V305H292zM399 278H404V305H399zM133 305H136V333H133zM163 305H166V333H163zM245 305H248V333H245zM297 305H302V333H297zM354 305H357V333H354zM359 305H363V333H359zM368 305H372V333H368zM385 305H388V333H385zM389 305H393V333H389zM399 305H404V333H399zM137 333H142V358H137zM188 333H193V358H188zM303 333H307V358H303zM360 333H364V358H360zM385 333H388V358H385zM408 333H413V358H408zM115 358H120V379H115zM128 358H137V379H128zM173 358H182V379H173zM242 358H248V379H242zM355 358H358V379H355zM368 358H375V379H368zM115 384H193V404H115zM227 384H256V404H227z"/>
<path fill="#a6a6a6" d="M128 42H133V113H128zM256 42H262V113H256zM127 113H133V140H127zM267 113H270V140H267zM127 140H133V168H127zM227 140H235V168H227zM361 140H367V168H361zM361 168H366V195H361zM410 168H415V195H410zM227 195H235V223H227zM406 195H415V223H406zM118 223H123V250H118zM158 223H162V250H158zM174 223H178V250H174zM190 223H195V250H190zM227 223H235V250H227zM243 223H250V250H243zM254 223H256V250H254zM262 223H267V250H262zM273 223H278V250H273zM283 223H285V250H283zM297 223H300V250H297zM350 223H354V250H350zM394 223H398V250H394zM404 223H409V250H404zM128 250H134V278H128zM170 250H174V278H170zM182 250H184V278H182zM187 250H195V278H187zM254 250H262V278H254zM278 250H283V278H278zM287 250H291V278H287zM292 250H302V278H292zM365 250H367V278H365zM385 250H388V278H385zM400 250H404V278H400zM119 278H123V305H119zM157 278H163V305H157zM166 278H169V305H166zM177 278H182V305H177zM242 278H245V305H242zM281 278H287V305H281zM297 278H302V305H297zM409 278H413V305H409zM177 305H183V333H177zM254 305H256V333H254zM263 305H267V333H263zM292 305H297V333H292zM409 305H413V333H409zM115 333H120V358H115zM125 333H133V358H125zM173 333H182V358H173zM187 333H188V358H187zM242 333H245V358H242zM262 333H267V358H262zM292 333H303V358H292zM355 333H358V358H355zM368 333H373V358H368zM120 358H128V379H120zM157 358H173V379H157zM182 358H187V379H182zM252 358H256V379H252zM262 358H272V379H262zM281 358H291V379H281zM394 358H399V379H394z"/>
<path fill="#afafaf" d="M267 42H271V113H267zM409 42H412V113H409zM256 113H262V140H256zM256 140H262V168H256zM183 168H187V195H183zM256 168H262V195H256zM122 195H125V223H122zM256 195H262V223H256zM361 195H366V223H361zM256 223H262V250H256zM174 250H178V278H174zM227 250H235V278H227zM273 250H278V278H273zM283 250H285V278H283zM350 250H354V278H350zM394 250H398V278H394zM404 250H409V278H404zM126 278H133V305H126zM189 278H194V305H189zM273 278H279V305H273zM287 278H292V305H287zM350 278H354V305H350zM394 278H399V305H394zM404 278H409V305H404zM413 278H416V305H413zM157 305H163V333H157zM189 305H194V333H189zM242 305H245V333H242zM281 305H291V333H281zM394 305H399V333H394zM413 305H417V333H413zM157 333H166V358H157zM182 333H187V358H182zM281 333H291V358H281zM394 333H399V358H394zM413 333H417V358H413zM187 358H191V379H187zM248 358H252V379H248zM274 358H280V379H274zM350 358H355V379H350zM403 358H408V379H403zM413 358H418V379H413z"/>
<path fill="#b8b8b8" d="M255 42H256V113H255zM255 113H256V140H255zM409 113H413V140H409zM255 140H256V168H255zM408 140H414V168H408zM255 168H256V195H255zM183 195H187V223H183zM255 195H256V223H255zM184 223H187V250H184zM359 223H365V250H359zM409 223H415V250H409zM118 250H124V278H118zM157 250H162V278H157zM184 250H187V278H184zM244 250H250V278H244zM359 250H365V278H359zM409 250H415V278H409zM171 278H177V305H171zM183 278H187V305H183zM248 278H252V305H248zM267 278H271V305H267zM118 305H124V333H118zM127 305H133V333H127zM166 305H169V333H166zM183 305H187V333H183zM248 305H252V333H248zM273 305H279V333H273zM350 305H354V333H350zM404 305H409V333H404zM166 333H173V358H166zM248 333H252V358H248zM274 333H280V358H274zM350 333H355V358H350zM403 333H408V358H403zM364 358H368V379H364z"/>
<path fill="#c1c1c1" d="M262 168H265V195H262zM262 195H266V223H262zM267 223H270V250H267zM267 250H270V278H267zM363 278H368V305H363zM171 305H177V333H171zM267 305H271V333H267zM363 305H368V333H363zM120 333H125V358H120zM267 333H272V358H267zM364 333H368V358H364z"/>
<path fill="#cacaca" d="M262 42H264V113H262zM359 42H361V113H359zM359 168H361V195H359zM359 195H361V223H359z"/>
<path fill="#d3d3d3" d="M262 113H263V140H262zM359 113H361V140H359zM262 140H265V168H262zM359 140H361V168H359z"/>
</g></g>
<g clip-path="url(#cpb0)"><g filter="url(#spec0b)">
<path fill="#191919" d="M79 363H86V379H79z"/>
<path fill="#222222" d="M312 363H318V379H312z"/>
<path fill="#333333" d="M200 363H203V379H200zM223 363H227V379H223zM348 363H350V379H348z"/>
<path fill="#3c3c3c" d="M86 363H90V379H86zM196 363H200V379H196zM203 363H210V379H203zM235 363H237V379H235zM318 363H323V379H318zM346 363H348V379H346zM79 379H86V384H79zM312 379H318V384H312z"/>
<path fill="#454545" d="M210 363H223V379H210z"/>
<path fill="#575757" d="M90 363H98V379H90zM113 363H115V379H113zM193 363H196V379H193zM310 363H312V379H310zM323 363H330V379H323zM343 363H345V379H343zM424 363H449V379H424zM86 379H98V384H86zM196 379H227V384H196zM235 379H237V384H235zM318 379H330V384H318zM348 379H350V384H348z"/>
<path fill="#606060" d="M62 363H79V379H62zM109 363H113V379H109zM330 363H343V379H330zM358 363H360V379H358zM62 379H79V384H62zM256 379H262V384H256zM62 384H79V404H62z"/>
<path fill="#686868" d="M98 363H109V379H98zM146 363H148V379H146zM260 363H262V379H260zM345 363H346V379H345zM421 363H424V379H421zM98 379H115V384H98zM146 379H156V384H146zM190 379H196V384H190zM305 379H312V384H305zM330 379H348V384H330zM422 379H449V384H422z"/>
<path fill="#717171" d="M375 363H377V379H375zM115 379H138V384H115zM156 379H190V384H156zM359 379H394V384H359zM309 384H318V404H309z"/>
<path fill="#7a7a7a" d="M256 363H260V379H256zM280 363H281V379H280zM307 363H310V379H307zM227 379H235V384H227zM262 379H305V384H262zM350 379H359V384H350zM79 384H98V404H79zM318 384H350V404H318z"/>
<path fill="#8c8c8c" d="M148 363H157V379H148zM138 379H146V384H138zM237 379H256V384H237zM394 379H422V384H394zM193 384H227V404H193zM256 384H309V404H256zM422 384H449V404H422z"/>
<path fill="#959595" d="M137 363H146V379H137zM191 363H193V379H191zM227 363H235V379H227zM237 363H242V379H237zM272 363H274V379H272zM291 363H307V379H291zM360 363H364V379H360zM377 363H394V379H377zM399 363H403V379H399zM408 363H413V379H408zM418 363H421V379H418zM98 384H115V404H98zM350 384H422V404H350z"/>
<path fill="#9e9e9e" d="M115 363H120V379H115zM128 363H137V379H128zM173 363H182V379H173zM242 363H248V379H242zM355 363H358V379H355zM368 363H375V379H368zM115 384H193V404H115zM227 384H256V404H227z"/>
<path fill="#a6a6a6" d="M120 363H128V379H120zM157 363H173V379H157zM182 363H187V379H182zM252 363H256V379H252zM262 363H272V379H262zM281 363H291V379H281zM394 363H399V379H394z"/>
<path fill="#afafaf" d="M187 363H191V379H187zM248 363H252V379H248zM274 363H280V379H274zM350 363H355V379H350zM403 363H408V379H403zM413 363H418V379H413z"/>
<path fill="#b8b8b8" d="M364 363H368V379H364z"/>
</g></g>
<rect class="ln" x="78.60" y="58.50" width="353.70" height="329.10"/>
<path class="ln" d="M79.20 387.60v4.86M118.50 387.60v4.86M157.80 387.60v4.86M197.10 387.60v4.86M236.40 387.60v4.86M275.70 387.60v4.86M315.00 387.60v4.86M354.30 387.60v4.86M393.60 387.60v4.86M78.60 387.40h-4.86M78.60 346.30h-4.86M78.60 305.20h-4.86M78.60 264.10h-4.86M78.60 223.00h-4.86M78.60 181.90h-4.86M78.60 140.80h-4.86M78.60 99.70h-4.86M78.60 58.60h-4.86"/>
<text class="t10" x="79.20" y="409.0" text-anchor="middle" textLength="8.20" lengthAdjust="spacingAndGlyphs">0</text>
<text class="t10" x="118.50" y="409.0" text-anchor="middle" textLength="20.55" lengthAdjust="spacingAndGlyphs">1.5</text>
<text class="t10" x="157.80" y="409.0" text-anchor="middle" textLength="7.86" lengthAdjust="spacingAndGlyphs">3</text>
<text class="t10" x="197.10" y="409.0" text-anchor="middle" textLength="21.40" lengthAdjust="spacingAndGlyphs">4.5</text>
<text class="t10" x="236.40" y="409.0" text-anchor="middle" textLength="8.19" lengthAdjust="spacingAndGlyphs">6</text>
<text class="t10" x="275.70" y="409.0" text-anchor="middle" textLength="20.94" lengthAdjust="spacingAndGlyphs">7.5</text>
<text class="t10" x="315.00" y="409.0" text-anchor="middle" textLength="8.19" lengthAdjust="spacingAndGlyphs">9</text>
<text class="t10" x="353.90" y="409.0" text-anchor="middle" textLength="16.43" lengthAdjust="spacingAndGlyphs">10</text>
<text class="t10" x="392.40" y="409.0" text-anchor="middle" textLength="15.96" lengthAdjust="spacingAndGlyphs">12</text>
<text class="t10" x="69.20" y="393.90" text-anchor="end" textLength="8.20" lengthAdjust="spacingAndGlyphs">0</text>
<text class="t10" x="69.20" y="352.80" text-anchor="end" textLength="34.10" lengthAdjust="spacingAndGlyphs">1000</text>
<text class="t10" x="69.20" y="311.70" text-anchor="end" textLength="34.61" lengthAdjust="spacingAndGlyphs">2000</text>
<text class="t10" x="69.20" y="270.60" text-anchor="end" textLength="34.57" lengthAdjust="spacingAndGlyphs">3000</text>
<text class="t10" x="69.20" y="229.50" text-anchor="end" textLength="34.94" lengthAdjust="spacingAndGlyphs">4000</text>
<text class="t10" x="69.20" y="188.40" text-anchor="end" textLength="34.55" lengthAdjust="spacingAndGlyphs">5000</text>
<text class="t10" x="69.20" y="147.30" text-anchor="end" textLength="34.65" lengthAdjust="spacingAndGlyphs">6000</text>
<text class="t10" x="69.20" y="106.20" text-anchor="end" textLength="34.48" lengthAdjust="spacingAndGlyphs">7000</text>
<text class="t10" x="69.20" y="65.10" text-anchor="end" textLength="34.68" lengthAdjust="spacingAndGlyphs">8000</text>
<text class="t12" x="254.75" y="431.8" text-anchor="middle" textLength="67" lengthAdjust="spacingAndGlyphs">Time (s)</text>
</g>
<g id="panel2">
<rect x="495.10" y="58.50" width="353.70" height="329.10" fill="#b9c4d6"/>
<g clip-path="url(#cp1)"><g filter="url(#spec1)">
<rect x="478" y="42" width="388" height="363" fill="#717171"/>
<path fill="#333333" d="M479 42H500V85H479zM479 85H500V113H479zM500 377H506V378H500zM500 378H506V383H500z"/>
<path fill="#3c3c3c" d="M500 42H506V85H500zM755 42H759V85H755zM500 85H506V113H500zM755 85H759V113H755zM479 113H500V141H479zM755 113H759V141H755z"/>
<path fill="#454545" d="M506 42H510V85H506zM624 42H628V85H624zM638 42H643V85H638zM624 85H628V113H624zM500 113H506V141H500zM479 141H500V168H479zM755 141H759V168H755zM479 168H500V195H479zM624 168H630V195H624zM479 195H500V223H479zM624 195H630V223H624zM479 223H500V251H479zM624 223H630V251H624zM479 251H500V278H479zM624 251H630V278H624zM479 361H500V372H479zM479 372H502V377H479zM479 377H500V378H479zM506 377H507V378H506zM479 378H500V383H479zM506 378H507V383H506z"/>
<path fill="#4e4e4e" d="M520 42H530V85H520zM619 42H624V85H619zM628 42H632V85H628zM635 42H638V85H635zM735 42H746V85H735zM751 42H755V85H751zM759 42H762V85H759zM506 85H510V113H506zM520 85H530V113H520zM619 85H624V113H619zM628 85H632V113H628zM638 85H643V113H638zM735 85H746V113H735zM751 85H755V113H751zM759 85H762V113H759zM506 113H510V141H506zM624 113H628V141H624zM735 113H741V141H735zM751 113H755V141H751zM759 113H762V141H759zM500 141H506V168H500zM616 168H624V195H616zM630 168H633V195H630zM742 168H752V195H742z"/>
<path fill="#575757" d="M515 42H520V85H515zM530 42H533V85H530zM564 42H569V85H564zM612 42H619V85H612zM746 42H751V85H746zM770 42H773V85H770zM515 85H520V113H515zM564 85H569V113H564zM612 85H619V113H612zM746 85H751V113H746zM770 85H773V113H770zM515 113H530V141H515zM612 113H624V141H612zM628 113H633V141H628zM638 113H643V141H638zM707 113H712V141H707zM741 113H746V141H741zM770 113H773V141H770zM506 141H510V168H506zM520 141H525V168H520zM619 141H633V168H619zM698 141H703V168H698zM735 141H741V168H735zM751 141H755V168H751zM759 141H762V168H759zM500 168H510V195H500zM500 195H510V223H500zM616 195H624V223H616zM630 195H633V223H630zM742 195H752V223H742zM500 223H510V251H500zM500 251H510V278H500zM479 333H500V361H479zM500 361H506V372H500zM725 378H731V383H725zM725 383H731V384H725z"/>
<path fill="#606060" d="M510 42H515V85H510zM557 42H561V85H557zM580 42H584V85H580zM698 42H703V85H698zM707 42H716V85H707zM721 42H726V85H721zM833 42H838V85H833zM843 42H846V85H843zM510 85H515V113H510zM530 85H533V113H530zM557 85H561V113H557zM580 85H584V113H580zM632 85H636V113H632zM698 85H703V113H698zM707 85H716V113H707zM721 85H726V113H721zM833 85H838V113H833zM843 85H846V113H843zM510 113H515V141H510zM564 113H569V141H564zM580 113H584V141H580zM633 113H638V141H633zM698 113H703V141H698zM712 113H716V141H712zM746 113H751V141H746zM833 113H838V141H833zM510 141H520V168H510zM525 141H530V168H525zM612 141H619V168H612zM633 141H643V168H633zM707 141H712V168H707zM741 141H744V168H741zM747 141H751V168H747zM770 141H773V168H770zM510 168H532V195H510zM633 168H643V195H633zM731 168H742V195H731zM752 168H763V195H752zM510 195H520V223H510zM752 195H763V223H752zM616 223H624V251H616zM630 223H633V251H630zM742 223H752V251H742zM616 251H624V278H616zM630 251H633V278H630zM742 251H752V278H742zM810 372H818V377H810zM810 377H818V378H810zM810 378H818V383H810zM810 383H818V384H810z"/>
<path fill="#686868" d="M550 42H553V85H550zM561 42H564V85H561zM575 42H580V85H575zM584 42H587V85H584zM607 42H612V85H607zM632 42H635V85H632zM653 42H657V85H653zM731 42H735V85H731zM766 42H770V85H766zM773 42H775V85H773zM797 42H799V85H797zM803 42H807V85H803zM814 42H817V85H814zM846 42H865V85H846zM550 85H553V113H550zM561 85H564V113H561zM575 85H580V113H575zM584 85H587V113H584zM607 85H612V113H607zM636 85H638V113H636zM653 85H657V113H653zM731 85H735V113H731zM766 85H770V113H766zM773 85H775V113H773zM797 85H799V113H797zM803 85H807V113H803zM814 85H817V113H814zM846 85H865V113H846zM530 113H533V141H530zM557 113H564V141H557zM575 113H580V141H575zM607 113H612V141H607zM653 113H657V141H653zM721 113H726V141H721zM731 113H735V141H731zM773 113H775V141H773zM797 113H799V141H797zM803 113H807V141H803zM843 113H846V141H843zM564 141H569V168H564zM580 141H584V168H580zM712 141H716V168H712zM731 141H735V168H731zM833 141H838V168H833zM563 168H568V195H563zM610 168H616V195H610zM840 168H865V195H840zM520 195H532V223H520zM633 195H643V223H633zM731 195H742V223H731zM510 223H520V251H510zM633 223H643V251H633zM731 223H742V251H731zM752 223H763V251H752zM479 278H500V305H479zM724 278H730V305H724zM479 305H500V333H479zM724 305H730V333H724zM500 333H506V361H500zM502 372H509V377H502zM613 372H617V377H613zM635 372H643V377H635zM609 377H643V378H609zM609 378H643V383H609zM721 378H725V383H721zM731 378H766V383H731zM721 383H725V384H721zM731 383H766V384H731z"/>
<path fill="#717171" d="M569 42H575V85H569zM604 42H607V85H604zM687 42H691V85H687zM694 42H698V85H694zM703 42H707V85H703zM716 42H721V85H716zM782 42H786V85H782zM789 42H793V85H789zM807 42H810V85H807zM829 42H833V85H829zM838 42H843V85H838zM569 85H575V113H569zM687 85H691V113H687zM694 85H698V113H694zM703 85H707V113H703zM716 85H721V113H716zM782 85H786V113H782zM789 85H793V113H789zM807 85H810V113H807zM829 85H833V113H829zM838 85H843V113H838zM550 113H553V141H550zM584 113H587V141H584zM687 113H691V141H687zM694 113H698V141H694zM703 113H707V141H703zM716 113H721V141H716zM766 113H770V141H766zM782 113H786V141H782zM789 113H793V141H789zM807 113H810V141H807zM814 113H817V141H814zM829 113H833V141H829zM838 113H843V141H838zM846 113H865V141H846zM530 141H533V168H530zM557 141H564V168H557zM575 141H580V168H575zM607 141H612V168H607zM653 141H657V168H653zM703 141H707V168H703zM716 141H726V168H716zM797 141H799V168H797zM803 141H807V168H803zM843 141H846V168H843zM763 168H767V195H763zM563 195H568V223H563zM610 195H616V223H610zM840 195H865V223H840zM520 223H532V251H520zM563 223H568V251H563zM610 223H616V251H610zM510 251H520V278H510zM633 251H643V278H633zM731 251H742V278H731zM752 251H763V278H752zM500 278H506V305H500zM612 278H630V305H612zM730 278H734V305H730zM500 305H506V333H500zM730 305H734V333H730zM841 305H845V333H841zM724 333H730V361H724zM841 333H845V361H841zM724 361H730V372H724zM609 372H613V377H609zM617 372H635V377H617zM724 372H766V377H724zM507 377H531V378H507zM724 377H766V378H724zM507 378H531V383H507zM836 378H865V383H836zM479 383H502V384H479zM836 383H865V384H836zM479 384H502V404H479z"/>
<path fill="#7a7a7a" d="M553 42H557V85H553zM668 42H672V85H668zM793 42H797V85H793zM820 42H824V85H820zM553 85H557V113H553zM604 85H607V113H604zM668 85H672V113H668zM793 85H797V113H793zM820 85H824V113H820zM553 113H557V141H553zM569 113H575V141H569zM604 113H607V141H604zM793 113H797V141H793zM820 113H824V141H820zM550 141H553V168H550zM569 141H575V168H569zM584 141H587V168H584zM687 141H691V168H687zM694 141H698V168H694zM766 141H770V168H766zM773 141H775V168H773zM782 141H786V168H782zM789 141H793V168H789zM807 141H810V168H807zM814 141H817V168H814zM829 141H833V168H829zM838 141H843V168H838zM846 141H865V168H846zM556 168H563V195H556zM568 168H577V195H568zM652 168H658V195H652zM668 168H671V195H668zM687 168H693V195H687zM700 168H710V195H700zM832 168H840V195H832zM763 195H767V223H763zM763 223H767V251H763zM840 223H865V251H840zM520 251H532V278H520zM563 251H568V278H563zM610 251H616V278H610zM528 278H532V305H528zM638 278H642V305H638zM738 278H744V305H738zM749 278H755V305H749zM841 278H845V305H841zM612 305H624V333H612zM730 333H734V361H730zM730 361H734V372H730zM841 361H845V372H841zM721 372H724V377H721zM836 372H865V377H836zM721 377H724V378H721zM836 377H865V378H836z"/>
<path fill="#838383" d="M596 42H600V85H596zM649 42H653V85H649zM682 42H687V85H682zM691 42H694V85H691zM762 42H766V85H762zM786 42H789V85H786zM799 42H803V85H799zM810 42H814V85H810zM596 85H600V113H596zM682 85H687V113H682zM762 85H766V113H762zM786 85H789V113H786zM799 85H803V113H799zM810 85H814V113H810zM596 113H600V141H596zM657 113H663V141H657zM668 113H672V141H668zM682 113H687V141H682zM762 113H766V141H762zM786 113H789V141H786zM799 113H803V141H799zM810 113H814V141H810zM553 141H557V168H553zM604 141H607V168H604zM657 141H663V168H657zM682 141H687V168H682zM744 141H747V168H744zM762 141H766V168H762zM786 141H789V168H786zM793 141H797V168H793zM799 141H803V168H799zM810 141H814V168H810zM820 141H824V168H820zM551 168H556V195H551zM594 168H599V195H594zM605 168H610V195H605zM658 168H668V195H658zM710 168H725V195H710zM767 168H774V195H767zM556 195H563V223H556zM568 195H577V223H568zM652 195H658V223H652zM668 195H671V223H668zM687 195H693V223H687zM700 195H710V223H700zM832 195H840V223H832zM763 251H767V278H763zM840 251H865V278H840zM506 278H510V305H506zM525 278H528V305H525zM563 278H567V305H563zM630 278H635V305H630zM744 278H749V305H744zM755 278H760V305H755zM624 305H630V333H624zM638 305H642V333H638zM738 305H744V333H738zM749 305H755V333H749zM612 333H624V361H612zM738 333H744V361H738zM749 333H755V361H749zM838 333H841V361H838zM509 372H531V377H509zM531 377H609V378H531zM531 378H609V383H531zM672 378H721V383H672zM766 378H810V383H766zM672 383H721V384H672zM766 383H810V384H766zM721 384H766V404H721z"/>
<path fill="#8c8c8c" d="M533 42H537V85H533zM587 42H593V85H587zM600 42H604V85H600zM643 42H649V85H643zM657 42H663V85H657zM779 42H782V85H779zM587 85H593V113H587zM643 85H653V113H643zM657 85H663V113H657zM691 85H694V113H691zM779 85H782V113H779zM543 113H547V141H543zM643 113H649V141H643zM779 113H782V141H779zM543 141H547V168H543zM596 141H600V168H596zM643 141H649V168H643zM668 141H672V168H668zM779 141H782V168H779zM532 168H537V195H532zM577 168H585V195H577zM693 168H700V195H693zM799 168H814V195H799zM551 195H556V223H551zM594 195H599V223H594zM605 195H610V223H605zM658 195H668V223H658zM710 195H725V223H710zM767 195H774V223H767zM556 223H563V251H556zM568 223H577V251H568zM652 223H658V251H652zM668 223H671V251H668zM687 223H693V251H687zM700 223H710V251H700zM832 223H840V251H832zM556 251H563V278H556zM652 251H658V278H652zM668 251H671V278H668zM687 251H693V278H687zM832 251H840V278H832zM510 278H525V305H510zM559 278H563V305H559zM567 278H570V305H567zM609 278H612V305H609zM635 278H638V305H635zM721 278H724V305H721zM734 278H738V305H734zM760 278H765V305H760zM838 278H841V305H838zM845 278H865V305H845zM506 305H510V333H506zM525 305H532V333H525zM563 305H570V333H563zM609 305H612V333H609zM630 305H638V333H630zM721 305H724V333H721zM734 305H738V333H734zM744 305H749V333H744zM755 305H765V333H755zM838 305H841V333H838zM845 305H865V333H845zM774 372H779V377H774zM643 377H672V378H643zM774 377H779V378H774zM643 378H672V383H643zM818 378H836V383H818zM818 383H836V384H818z"/>
<path fill="#959595" d="M543 42H547V85H543zM593 42H596V85H593zM663 42H668V85H663zM672 42H678V85H672zM824 42H829V85H824zM533 85H537V113H533zM543 85H547V113H543zM593 85H596V113H593zM600 85H604V113H600zM663 85H668V113H663zM672 85H678V113H672zM533 113H537V141H533zM587 113H596V141H587zM600 113H604V141H600zM649 113H653V141H649zM663 113H668V141H663zM691 113H694V141H691zM533 141H537V168H533zM600 141H604V168H600zM649 141H653V168H649zM663 141H668V168H663zM691 141H694V168H691zM544 168H551V195H544zM585 168H594V195H585zM643 168H652V195H643zM680 168H687V195H680zM725 168H731V195H725zM779 168H799V195H779zM532 195H537V223H532zM577 195H585V223H577zM693 195H700V223H693zM799 195H814V223H799zM551 223H556V251H551zM594 223H599V251H594zM605 223H610V251H605zM658 223H668V251H658zM710 223H725V251H710zM767 223H774V251H767zM799 223H814V251H799zM568 251H577V278H568zM700 251H710V278H700zM532 278H536V305H532zM556 278H559V305H556zM570 278H574V305H570zM642 278H646V305H642zM716 278H721V305H716zM793 278H798V305H793zM803 278H809V305H803zM834 278H838V305H834zM515 305H520V333H515zM556 305H563V333H556zM716 305H721V333H716zM786 305H789V333H786zM793 305H798V333H793zM803 305H809V333H803zM834 305H838V333H834zM528 333H532V361H528zM563 333H567V361H563zM609 333H612V361H609zM624 333H642V361H624zM721 333H724V361H721zM734 333H738V361H734zM744 333H749V361H744zM755 333H760V361H755zM834 333H838V361H834zM845 333H865V361H845zM506 361H510V372H506zM612 361H642V372H612zM721 361H724V372H721zM734 361H765V372H734zM835 361H841V372H835zM845 361H865V372H845zM785 372H810V377H785zM785 377H810V378H785zM502 383H672V384H502zM502 384H721V404H502zM766 384H865V404H766z"/>
<path fill="#9e9e9e" d="M814 168H832V195H814zM544 195H551V223H544zM585 195H594V223H585zM643 195H652V223H643zM680 195H687V223H680zM725 195H731V223H725zM779 195H799V223H779zM532 223H537V251H532zM577 223H585V251H577zM693 223H700V251H693zM551 251H556V278H551zM594 251H599V278H594zM605 251H610V278H605zM658 251H668V278H658zM710 251H725V278H710zM767 251H774V278H767zM799 251H814V278H799zM551 278H556V305H551zM585 278H588V305H585zM605 278H609V305H605zM652 278H656V305H652zM707 278H716V305H707zM765 278H768V305H765zM786 278H789V305H786zM798 278H803V305H798zM506 333H510V361H506zM525 333H528V361H525zM556 333H563V361H556zM567 333H570V361H567zM716 333H721V361H716zM760 333H765V361H760zM786 333H789V361H786zM793 333H798V361H793zM803 333H807V361H803zM510 361H532V372H510z"/>
<path fill="#a6a6a6" d="M537 42H543V85H537zM547 42H550V85H547zM726 42H731V85H726zM817 42H820V85H817zM547 85H550V113H547zM726 85H731V113H726zM817 85H820V113H817zM824 85H829V113H824zM547 113H550V141H547zM672 113H678V141H672zM726 113H731V141H726zM824 113H829V141H824zM547 141H550V168H547zM587 141H596V168H587zM672 141H678V168H672zM726 141H731V168H726zM824 141H829V168H824zM537 168H544V195H537zM599 168H605V195H599zM671 168H680V195H671zM814 195H832V223H814zM544 223H551V251H544zM585 223H594V251H585zM643 223H652V251H643zM680 223H687V251H680zM725 223H731V251H725zM779 223H799V251H779zM532 251H537V278H532zM577 251H585V278H577zM693 251H700V278H693zM779 251H792V278H779zM543 278H547V305H543zM580 278H585V305H580zM668 278H672V305H668zM678 278H682V305H678zM697 278H702V305H697zM773 278H777V305H773zM782 278H786V305H782zM510 305H515V333H510zM520 305H525V333H520zM532 305H536V333H532zM551 305H556V333H551zM570 305H574V333H570zM585 305H588V333H585zM605 305H609V333H605zM642 305H646V333H642zM652 305H656V333H652zM668 305H672V333H668zM678 305H682V333H678zM697 305H702V333H697zM707 305H716V333H707zM765 305H768V333H765zM773 305H777V333H773zM782 305H786V333H782zM798 305H803V333H798zM515 333H525V361H515zM551 333H556V361H551zM585 333H588V361H585zM605 333H609V361H605zM642 333H646V361H642zM652 333H656V361H652zM707 333H716V361H707zM798 333H803V361H798zM807 333H809V361H807zM563 361H574V372H563zM605 361H612V372H605zM642 361H656V372H642zM672 361H682V372H672zM716 361H721V372H716zM786 361H809V372H786zM830 361H835V372H830zM553 372H564V377H553zM655 372H665V377H655zM697 372H709V377H697zM766 372H774V377H766zM697 377H709V378H697zM766 377H774V378H766z"/>
<path fill="#afafaf" d="M774 168H779V195H774zM537 195H544V223H537zM599 195H605V223H599zM671 195H680V223H671zM814 223H832V251H814zM544 251H551V278H544zM585 251H594V278H585zM643 251H652V278H643zM680 251H687V278H680zM725 251H731V278H725zM792 251H799V278H792zM594 278H599V305H594zM646 278H652V305H646zM656 278H663V305H656zM672 278H678V305H672zM687 278H692V305H687zM702 278H707V305H702zM789 278H793V305H789zM814 278H818V305H814zM830 278H834V305H830zM510 333H515V361H510zM532 333H536V361H532zM570 333H574V361H570zM580 333H585V361H580zM656 333H663V361H656zM668 333H682V361H668zM697 333H707V361H697zM765 333H768V361H765zM773 333H777V361H773zM782 333H786V361H782zM789 333H793V361H789zM814 333H818V361H814zM830 333H834V361H830zM551 361H563V372H551zM656 361H672V372H656zM697 361H716V372H697zM765 361H777V372H765zM809 361H830V372H809zM531 372H544V377H531zM593 372H601V377H593zM672 372H684V377H672zM779 372H785V377H779zM818 372H836V377H818zM672 377H684V378H672zM779 377H785V378H779zM818 377H836V378H818z"/>
<path fill="#b8b8b8" d="M678 42H682V85H678zM537 85H543V113H537zM678 85H682V113H678zM537 113H543V141H537zM817 113H820V141H817zM537 141H543V168H537zM817 141H820V168H817zM774 195H779V223H774zM537 223H544V251H537zM599 223H605V251H599zM671 223H680V251H671zM599 251H605V278H599zM814 251H832V278H814zM536 278H543V305H536zM547 278H551V305H547zM574 278H580V305H574zM588 278H594V305H588zM599 278H605V305H599zM663 278H668V305H663zM692 278H697V305H692zM768 278H773V305H768zM777 278H782V305H777zM809 278H814V305H809zM818 278H830V305H818zM543 305H547V333H543zM580 305H585V333H580zM594 305H599V333H594zM656 305H663V333H656zM672 305H678V333H672zM687 305H692V333H687zM702 305H707V333H702zM789 305H793V333H789zM814 305H818V333H814zM830 305H834V333H830zM543 333H551V361H543zM594 333H605V361H594zM646 333H652V361H646zM663 333H668V361H663zM687 333H692V361H687zM809 333H814V361H809zM818 333H830V361H818zM532 361H551V372H532zM574 361H605V372H574zM682 361H697V372H682zM777 361H786V372H777zM544 372H553V377H544zM564 372H593V377H564zM601 372H609V377H601zM643 372H655V377H643zM665 372H672V377H665zM684 372H697V377H684zM709 372H721V377H709zM684 377H697V378H684zM709 377H721V378H709z"/>
<path fill="#c1c1c1" d="M775 42H779V85H775zM775 85H779V113H775zM678 113H682V141H678zM775 113H779V141H775zM775 141H779V168H775zM774 223H779V251H774zM537 251H544V278H537zM671 251H680V278H671zM682 278H687V305H682zM547 305H551V333H547zM574 305H580V333H574zM599 305H605V333H599zM646 305H652V333H646zM663 305H668V333H663zM692 305H697V333H692zM768 305H773V333H768zM777 305H782V333H777zM809 305H814V333H809zM818 305H830V333H818zM574 333H580V361H574zM588 333H594V361H588zM692 333H697V361H692zM768 333H773V361H768zM777 333H782V361H777z"/>
<path fill="#cacaca" d="M678 141H682V168H678zM774 251H779V278H774zM536 305H543V333H536zM588 305H594V333H588zM682 305H687V333H682zM536 333H543V361H536zM682 333H687V361H682z"/>
</g></g>
<g clip-path="url(#cpb1)"><g filter="url(#spec1b)">
<path fill="#333333" d="M500 377H506V378H500zM500 378H506V383H500z"/>
<path fill="#454545" d="M479 363H500V372H479zM479 372H502V377H479zM479 377H500V378H479zM506 377H507V378H506zM479 378H500V383H479zM506 378H507V383H506z"/>
<path fill="#575757" d="M500 363H506V372H500zM725 378H731V383H725zM725 383H731V384H725z"/>
<path fill="#606060" d="M810 372H818V377H810zM810 377H818V378H810zM810 378H818V383H810zM810 383H818V384H810z"/>
<path fill="#686868" d="M502 372H509V377H502zM613 372H617V377H613zM635 372H643V377H635zM609 377H643V378H609zM609 378H643V383H609zM721 378H725V383H721zM731 378H766V383H731zM721 383H725V384H721zM731 383H766V384H731z"/>
<path fill="#717171" d="M724 363H730V372H724zM609 372H613V377H609zM617 372H635V377H617zM724 372H766V377H724zM507 377H531V378H507zM724 377H766V378H724zM507 378H531V383H507zM836 378H865V383H836zM479 383H502V384H479zM836 383H865V384H836zM479 384H502V404H479z"/>
<path fill="#7a7a7a" d="M730 363H734V372H730zM841 363H845V372H841zM721 372H724V377H721zM836 372H865V377H836zM721 377H724V378H721zM836 377H865V378H836z"/>
<path fill="#838383" d="M509 372H531V377H509zM531 377H609V378H531zM531 378H609V383H531zM672 378H721V383H672zM766 378H810V383H766zM672 383H721V384H672zM766 383H810V384H766zM721 384H766V404H721z"/>
<path fill="#8c8c8c" d="M774 372H779V377H774zM643 377H672V378H643zM774 377H779V378H774zM643 378H672V383H643zM818 378H836V383H818zM818 383H836V384H818z"/>
<path fill="#959595" d="M506 363H510V372H506zM612 363H642V372H612zM721 363H724V372H721zM734 363H765V372H734zM835 363H841V372H835zM845 363H865V372H845zM785 372H810V377H785zM785 377H810V378H785zM502 383H672V384H502zM502 384H721V404H502zM766 384H865V404H766z"/>
<path fill="#9e9e9e" d="M510 363H532V372H510z"/>
<path fill="#a6a6a6" d="M563 363H574V372H563zM605 363H612V372H605zM642 363H656V372H642zM672 363H682V372H672zM716 363H721V372H716zM786 363H809V372H786zM830 363H835V372H830zM553 372H564V377H553zM655 372H665V377H655zM697 372H709V377H697zM766 372H774V377H766zM697 377H709V378H697zM766 377H774V378H766z"/>
<path fill="#afafaf" d="M551 363H563V372H551zM656 363H672V372H656zM697 363H716V372H697zM765 363H777V372H765zM809 363H830V372H809zM531 372H544V377H531zM593 372H601V377H593zM672 372H684V377H672zM779 372H785V377H779zM818 372H836V377H818zM672 377H684V378H672zM779 377H785V378H779zM818 377H836V378H818z"/>
<path fill="#b8b8b8" d="M532 363H551V372H532zM574 363H605V372H574zM682 363H697V372H682zM777 363H786V372H777zM544 372H553V377H544zM564 372H593V377H564zM601 372H609V377H601zM643 372H655V377H643zM665 372H672V377H665zM684 372H697V377H684zM709 372H721V377H709zM684 377H697V378H684zM709 377H721V378H709z"/>
</g></g>
<rect class="ln" x="495.10" y="58.50" width="353.70" height="329.10"/>
<path class="ln" d="M495.70 387.60v4.86M535.00 387.60v4.86M574.30 387.60v4.86M613.60 387.60v4.86M652.90 387.60v4.86M692.20 387.60v4.86M731.50 387.60v4.86M770.80 387.60v4.86M810.10 387.60v4.86M495.10 387.40h-4.86M495.10 346.30h-4.86M495.10 305.20h-4.86M495.10 264.10h-4.86M495.10 223.00h-4.86M495.10 181.90h-4.86M495.10 140.80h-4.86M495.10 99.70h-4.86M495.10 58.60h-4.86"/>
<text class="t10" x="495.70" y="409.0" text-anchor="middle" textLength="8.20" lengthAdjust="spacingAndGlyphs">0</text>
<text class="t10" x="535.00" y="409.0" text-anchor="middle" textLength="20.55" lengthAdjust="spacingAndGlyphs">1.5</text>
<text class="t10" x="574.30" y="409.0" text-anchor="middle" textLength="7.86" lengthAdjust="spacingAndGlyphs">3</text>
<text class="t10" x="613.60" y="409.0" text-anchor="middle" textLength="21.40" lengthAdjust="spacingAndGlyphs">4.5</text>
<text class="t10" x="652.90" y="409.0" text-anchor="middle" textLength="8.19" lengthAdjust="spacingAndGlyphs">6</text>
<text class="t10" x="692.20" y="409.0" text-anchor="middle" textLength="20.94" lengthAdjust="spacingAndGlyphs">7.5</text>
<text class="t10" x="731.50" y="409.0" text-anchor="middle" textLength="8.19" lengthAdjust="spacingAndGlyphs">9</text>
<text class="t10" x="770.40" y="409.0" text-anchor="middle" textLength="16.43" lengthAdjust="spacingAndGlyphs">10</text>
<text class="t10" x="808.90" y="409.0" text-anchor="middle" textLength="15.96" lengthAdjust="spacingAndGlyphs">12</text>
<text class="t10" x="485.70" y="393.90" text-anchor="end" textLength="8.20" lengthAdjust="spacingAndGlyphs">0</text>
<text class="t10" x="485.70" y="352.80" text-anchor="end" textLength="34.10" lengthAdjust="spacingAndGlyphs">1000</text>
<text class="t10" x="485.70" y="311.70" text-anchor="end" textLength="34.61" lengthAdjust="spacingAndGlyphs">2000</text>
<text class="t10" x="485.70" y="270.60" text-anchor="end" textLength="34.57" lengthAdjust="spacingAndGlyphs">3000</text>
<text class="t10" x="485.70" y="229.50" text-anchor="end" textLength="34.94" lengthAdjust="spacingAndGlyphs">4000</text>
<text class="t10" x="485.70" y="188.40" text-anchor="end" textLength="34.55" lengthAdjust="spacingAndGlyphs">5000</text>
<text class="t10" x="485.70" y="147.30" text-anchor="end" textLength="34.65" lengthAdjust="spacingAndGlyphs">6000</text>
<text class="t10" x="485.70" y="106.20" text-anchor="end" textLength="34.48" lengthAdjust="spacingAndGlyphs">7000</text>
<text class="t10" x="485.70" y="65.10" text-anchor="end" textLength="34.68" lengthAdjust="spacingAndGlyphs">8000</text>
<text class="t12" x="671.25" y="431.8" text-anchor="middle" textLength="67" lengthAdjust="spacingAndGlyphs">Time (s)</text>
</g>
<g id="panel3">
<rect x="911.60" y="58.50" width="353.70" height="329.10" fill="#b9c4d6"/>
<g clip-path="url(#cp2)"><g filter="url(#spec2)">
<rect x="895" y="42" width="388" height="363" fill="#838383"/>
<path fill="#333333" d="M978 85H981V113H978zM978 113H981V141H978zM978 141H981V168H978zM978 195H981V223H978z"/>
<path fill="#3c3c3c" d="M978 42H981V85H978zM1104 42H1106V85H1104zM1104 85H1106V113H1104zM1104 113H1106V141H1104zM1219 113H1221V141H1219zM978 168H981V195H978zM978 223H981V251H978zM978 278H981V305H978z"/>
<path fill="#4e4e4e" d="M912 42H917V85H912zM989 42H992V85H989zM1126 42H1131V85H1126zM1156 42H1164V85H1156zM1172 42H1176V85H1172zM912 85H917V113H912zM989 85H992V113H989zM1058 85H1060V113H1058zM1122 85H1131V113H1122zM1156 85H1168V113H1156zM1172 85H1176V113H1172zM1187 85H1189V113H1187zM1218 85H1220V113H1218zM987 113H990V141H987zM1058 113H1060V141H1058zM1187 113H1189V141H1187zM1198 113H1200V141H1198zM1210 113H1213V141H1210zM1058 141H1060V168H1058zM1104 141H1106V168H1104zM1104 195H1106V223H1104zM1104 223H1106V251H1104zM1189 278H1192V305H1189z"/>
<path fill="#575757" d="M917 42H927V85H917zM931 42H934V85H931zM968 42H971V85H968zM1055 42H1060V85H1055zM1101 42H1104V85H1101zM1116 42H1119V85H1116zM1122 42H1126V85H1122zM1131 42H1136V85H1131zM1152 42H1156V85H1152zM1164 42H1172V85H1164zM1176 42H1179V85H1176zM1187 42H1189V85H1187zM1210 42H1214V85H1210zM1218 42H1224V85H1218zM917 85H927V113H917zM931 85H934V113H931zM968 85H971V113H968zM1055 85H1058V113H1055zM1101 85H1104V113H1101zM1116 85H1119V113H1116zM1131 85H1136V113H1131zM1152 85H1156V113H1152zM1168 85H1172V113H1168zM1176 85H1179V113H1176zM1210 85H1214V113H1210zM1220 85H1224V113H1220zM912 113H923V141H912zM968 113H971V141H968zM1005 113H1013V141H1005zM1116 113H1119V141H1116zM1122 113H1131V141H1122zM1156 113H1168V141H1156zM1172 113H1176V141H1172zM1216 113H1219V141H1216zM912 141H923V168H912zM987 141H990V168H987zM1116 141H1119V168H1116zM1187 141H1189V168H1187zM1198 141H1200V168H1198zM1210 141H1213V168H1210zM1219 141H1221V168H1219zM912 168H923V195H912zM931 168H934V195H931zM938 168H942V195H938zM1055 168H1060V195H1055zM1104 168H1106V195H1104zM1189 168H1192V195H1189zM912 195H923V223H912zM1055 195H1060V223H1055zM1122 195H1126V223H1122zM1189 195H1192V223H1189zM1221 195H1224V223H1221zM912 223H917V251H912zM1055 223H1058V251H1055zM1189 223H1192V251H1189zM1221 223H1224V251H1221zM912 251H917V278H912zM978 251H981V278H978zM912 305H923V333H912zM978 305H981V333H978z"/>
<path fill="#606060" d="M938 42H942V85H938zM975 42H978V85H975zM981 42H985V85H981zM1038 42H1043V85H1038zM1114 42H1116V85H1114zM1136 42H1140V85H1136zM1183 42H1187V85H1183zM1189 42H1192V85H1189zM1199 42H1203V85H1199zM1206 42H1210V85H1206zM1227 42H1231V85H1227zM1239 42H1242V85H1239zM1250 42H1253V85H1250zM938 85H942V113H938zM975 85H978V113H975zM981 85H985V113H981zM1038 85H1043V113H1038zM1114 85H1116V113H1114zM1136 85H1140V113H1136zM1183 85H1187V113H1183zM1189 85H1192V113H1189zM1199 85H1203V113H1199zM1206 85H1210V113H1206zM1227 85H1231V113H1227zM1239 85H1242V113H1239zM1250 85H1253V113H1250zM923 113H927V141H923zM931 113H934V141H931zM938 113H942V141H938zM975 113H978V141H975zM981 113H985V141H981zM990 113H992V141H990zM1055 113H1058V141H1055zM1101 113H1104V141H1101zM1114 113H1116V141H1114zM1119 113H1122V141H1119zM1131 113H1140V141H1131zM1152 113H1156V141H1152zM1168 113H1172V141H1168zM1176 113H1179V141H1176zM1183 113H1187V141H1183zM1189 113H1192V141H1189zM1221 113H1224V141H1221zM1239 113H1242V141H1239zM923 141H927V168H923zM947 141H952V168H947zM968 141H971V168H968zM1055 141H1058V168H1055zM1101 141H1104V168H1101zM1114 141H1116V168H1114zM1122 141H1131V168H1122zM1156 141H1161V168H1156zM1164 141H1176V168H1164zM1216 141H1219V168H1216zM923 168H927V195H923zM942 168H947V195H942zM1122 168H1126V195H1122zM1159 168H1169V195H1159zM1187 168H1189V195H1187zM1221 168H1224V195H1221zM923 195H927V223H923zM931 195H934V223H931zM938 195H942V223H938zM1159 195H1169V223H1159zM917 223H923V251H917zM1058 223H1060V251H1058zM1159 223H1169V251H1159zM1199 223H1201V251H1199zM917 251H923V278H917zM1104 251H1106V278H1104zM1159 251H1169V278H1159zM1221 251H1224V278H1221zM912 278H923V305H912zM1111 278H1113V305H1111z"/>
<path fill="#686868" d="M927 42H931V85H927zM942 42H947V85H942zM971 42H975V85H971zM985 42H989V85H985zM992 42H997V85H992zM1023 42H1028V85H1023zM1033 42H1038V85H1033zM1043 42H1048V85H1043zM1070 42H1075V85H1070zM1106 42H1110V85H1106zM1119 42H1122V85H1119zM1140 42H1143V85H1140zM1148 42H1152V85H1148zM1214 42H1218V85H1214zM1224 42H1227V85H1224zM1231 42H1235V85H1231zM1246 42H1250V85H1246zM1257 42H1262V85H1257zM927 85H931V113H927zM942 85H947V113H942zM971 85H975V113H971zM985 85H989V113H985zM992 85H997V113H992zM1023 85H1028V113H1023zM1033 85H1038V113H1033zM1043 85H1048V113H1043zM1070 85H1075V113H1070zM1106 85H1110V113H1106zM1119 85H1122V113H1119zM1140 85H1143V113H1140zM1148 85H1152V113H1148zM1214 85H1218V113H1214zM1224 85H1227V113H1224zM1231 85H1235V113H1231zM1246 85H1250V113H1246zM1257 85H1262V113H1257zM927 113H931V141H927zM942 113H947V141H942zM985 113H987V141H985zM992 113H997V141H992zM1023 113H1028V141H1023zM1033 113H1048V141H1033zM1070 113H1075V141H1070zM1106 113H1110V141H1106zM1148 113H1152V141H1148zM1200 113H1203V141H1200zM1206 113H1210V141H1206zM1213 113H1216V141H1213zM1227 113H1231V141H1227zM1250 113H1253V141H1250zM931 141H934V168H931zM938 141H942V168H938zM975 141H978V168H975zM981 141H985V168H981zM990 141H992V168H990zM1006 141H1013V168H1006zM1119 141H1122V168H1119zM1131 141H1136V168H1131zM1152 141H1156V168H1152zM1183 141H1187V168H1183zM1239 141H1242V168H1239zM927 168H931V195H927zM934 168H938V195H934zM989 168H992V195H989zM1126 168H1136V195H1126zM1149 168H1159V195H1149zM927 195H931V223H927zM934 195H938V223H934zM942 195H947V223H942zM1149 195H1159V223H1149zM1187 195H1189V223H1187zM923 223H927V251H923zM931 223H934V251H931zM938 223H942V251H938zM1000 223H1002V251H1000zM1122 223H1126V251H1122zM1149 223H1159V251H1149zM1055 251H1060V278H1055zM1116 251H1119V278H1116zM1149 251H1159V278H1149zM1189 251H1192V278H1189zM1055 278H1059V305H1055zM1111 305H1113V333H1111zM1142 305H1150V333H1142zM912 333H923V361H912z"/>
<path fill="#717171" d="M934 42H938V85H934zM952 42H955V85H952zM965 42H968V85H965zM997 42H1002V85H997zM1007 42H1012V85H1007zM1020 42H1023V85H1020zM1028 42H1033V85H1028zM1048 42H1050V85H1048zM1066 42H1070V85H1066zM1075 42H1080V85H1075zM1085 42H1089V85H1085zM1098 42H1101V85H1098zM1110 42H1114V85H1110zM1195 42H1199V85H1195zM1203 42H1206V85H1203zM1253 42H1257V85H1253zM1262 42H1282V85H1262zM934 85H938V113H934zM952 85H955V113H952zM965 85H968V113H965zM997 85H1002V113H997zM1007 85H1012V113H1007zM1020 85H1023V113H1020zM1028 85H1033V113H1028zM1048 85H1050V113H1048zM1075 85H1080V113H1075zM1085 85H1089V113H1085zM1098 85H1101V113H1098zM1110 85H1114V113H1110zM1195 85H1199V113H1195zM1203 85H1206V113H1203zM1253 85H1257V113H1253zM1262 85H1282V113H1262zM934 113H938V141H934zM947 113H955V141H947zM965 113H968V141H965zM971 113H975V141H971zM997 113H1005V141H997zM1028 113H1033V141H1028zM1075 113H1080V141H1075zM1098 113H1101V141H1098zM1110 113H1114V141H1110zM1140 113H1143V141H1140zM1195 113H1198V141H1195zM1224 113H1227V141H1224zM1231 113H1235V141H1231zM1246 113H1250V141H1246zM1253 113H1262V141H1253zM927 141H931V168H927zM934 141H938V168H934zM942 141H947V168H942zM952 141H955V168H952zM971 141H975V168H971zM985 141H987V168H985zM992 141H997V168H992zM1023 141H1048V168H1023zM1070 141H1080V168H1070zM1098 141H1101V168H1098zM1106 141H1114V168H1106zM1136 141H1140V168H1136zM1148 141H1152V168H1148zM1161 141H1164V168H1161zM1176 141H1179V168H1176zM1189 141H1192V168H1189zM1200 141H1203V168H1200zM1206 141H1210V168H1206zM1213 141H1216V168H1213zM1221 141H1224V168H1221zM1227 141H1231V168H1227zM1250 141H1253V168H1250zM968 168H971V195H968zM1101 168H1104V195H1101zM1114 168H1117V195H1114zM1169 168H1179V195H1169zM1219 168H1221V195H1219zM989 195H992V223H989zM1126 195H1136V223H1126zM1169 195H1179V223H1169zM927 223H931V251H927zM934 223H938V251H934zM942 223H947V251H942zM1169 223H1179V251H1169zM1187 223H1189V251H1187zM1219 223H1221V251H1219zM923 251H927V278H923zM931 251H934V278H931zM938 251H942V278H938zM1148 251H1149V278H1148zM1169 251H1179V278H1169zM923 278H927V305H923zM1028 278H1033V305H1028zM1059 278H1063V305H1059zM1162 278H1169V305H1162zM1220 278H1224V305H1220z"/>
<path fill="#7a7a7a" d="M947 42H952V85H947zM1012 42H1016V85H1012zM1235 42H1239V85H1235zM947 85H952V113H947zM1012 85H1016V113H1012zM1066 85H1070V113H1066zM1235 85H1239V113H1235zM1013 113H1016V141H1013zM1020 113H1023V141H1020zM1048 113H1050V141H1048zM1203 113H1206V141H1203zM1262 113H1282V141H1262zM947 168H950V195H947zM975 168H978V195H975zM981 168H989V195H981zM1007 168H1012V195H1007zM1024 168H1028V195H1024zM1033 168H1043V195H1033zM1070 168H1075V195H1070zM1117 168H1122V195H1117zM1136 168H1140V195H1136zM1148 168H1149V195H1148zM1183 168H1187V195H1183zM1211 168H1215V195H1211zM1239 168H1242V195H1239zM1250 168H1253V195H1250zM968 195H971V223H968zM975 195H978V223H975zM981 195H985V223H981zM1024 195H1028V223H1024zM1033 195H1043V223H1033zM1070 195H1075V223H1070zM1101 195H1104V223H1101zM1114 195H1117V223H1114zM1148 195H1149V223H1148zM1219 195H1221V223H1219zM981 223H985V251H981zM989 223H991V251H989zM1126 223H1136V251H1126zM1148 223H1149V251H1148zM927 251H931V278H927zM934 251H938V278H934zM942 251H947V278H942zM981 251H985V278H981zM1000 251H1002V278H1000zM1140 251H1143V278H1140zM1187 251H1189V278H1187zM1219 251H1221V278H1219zM932 278H937V305H932zM973 278H976V305H973zM981 278H985V305H981zM1033 278H1038V305H1033zM1094 278H1096V305H1094zM1140 278H1143V305H1140zM1158 278H1162V305H1158zM923 305H927V333H923zM1138 305H1142V333H1138zM1161 305H1168V333H1161zM1189 305H1192V333H1189zM1142 333H1147V361H1142zM912 382H937V386H912z"/>
<path fill="#838383" d="M895 42H912V85H895zM1002 42H1007V85H1002zM1060 42H1066V85H1060zM1080 42H1085V85H1080zM1089 42H1094V85H1089zM1242 42H1246V85H1242zM895 85H912V113H895zM1002 85H1007V113H1002zM1060 85H1066V113H1060zM1080 85H1085V113H1080zM1089 85H1094V113H1089zM895 113H912V141H895zM1066 113H1070V141H1066zM1080 113H1089V141H1080zM1235 113H1239V141H1235zM895 141H912V168H895zM965 141H968V168H965zM997 141H1006V168H997zM1020 141H1023V168H1020zM1048 141H1050V168H1048zM1085 141H1089V168H1085zM1140 141H1143V168H1140zM1195 141H1198V168H1195zM1224 141H1227V168H1224zM1231 141H1235V168H1231zM1246 141H1250V168H1246zM1253 141H1282V168H1253zM895 168H912V195H895zM992 168H997V195H992zM1002 168H1007V195H1002zM1028 168H1033V195H1028zM1043 168H1048V195H1043zM1075 168H1080V195H1075zM1098 168H1101V195H1098zM1106 168H1114V195H1106zM1140 168H1143V195H1140zM1200 168H1204V195H1200zM1208 168H1211V195H1208zM1215 168H1219V195H1215zM1224 168H1231V195H1224zM1257 168H1262V195H1257zM895 195H912V223H895zM947 195H950V223H947zM985 195H989V223H985zM1007 195H1012V223H1007zM1028 195H1033V223H1028zM1043 195H1048V223H1043zM1075 195H1080V223H1075zM1106 195H1110V223H1106zM1117 195H1122V223H1117zM1136 195H1140V223H1136zM1183 195H1187V223H1183zM1211 195H1215V223H1211zM1239 195H1242V223H1239zM1250 195H1253V223H1250zM895 223H912V251H895zM947 223H950V251H947zM968 223H971V251H968zM975 223H978V251H975zM1024 223H1028V251H1024zM1033 223H1043V251H1033zM1070 223H1075V251H1070zM1101 223H1104V251H1101zM1114 223H1117V251H1114zM1183 223H1187V251H1183zM895 251H912V278H895zM975 251H978V278H975zM989 251H991V278H989zM1033 251H1038V278H1033zM1122 251H1136V278H1122zM1199 251H1201V278H1199zM895 278H912V305H895zM976 278H978V305H976zM1024 278H1028V305H1024zM1104 278H1106V305H1104zM1136 278H1140V305H1136zM1143 278H1147V305H1143zM1151 278H1158V305H1151zM1169 278H1173V305H1169zM895 305H912V333H895zM973 305H978V333H973zM981 305H985V333H981zM1055 305H1059V333H1055zM1104 305H1106V333H1104zM1220 305H1224V333H1220zM895 333H912V361H895zM973 333H976V361H973zM1122 333H1125V361H1122zM1147 333H1151V361H1147zM895 361H912V372H895zM895 372H912V382H895zM895 382H912V386H895zM895 386H912V404H895z"/>
<path fill="#8c8c8c" d="M955 42H960V85H955zM1016 42H1020V85H1016zM1179 42H1183V85H1179zM1016 85H1020V113H1016zM1179 85H1183V113H1179zM1242 85H1246V113H1242zM1013 141H1016V168H1013zM1066 141H1070V168H1066zM1080 141H1085V168H1080zM1203 141H1206V168H1203zM950 168H955V195H950zM965 168H968V195H965zM971 168H975V195H971zM997 168H1002V195H997zM1012 168H1016V195H1012zM1021 168H1024V195H1021zM1048 168H1052V195H1048zM1085 168H1089V195H1085zM1197 168H1200V195H1197zM1231 168H1235V195H1231zM1246 168H1250V195H1246zM1253 168H1257V195H1253zM1262 168H1282V195H1262zM971 195H975V223H971zM992 195H997V223H992zM1002 195H1007V223H1002zM1048 195H1052V223H1048zM1085 195H1089V223H1085zM1098 195H1101V223H1098zM1110 195H1114V223H1110zM1140 195H1143V223H1140zM1200 195H1204V223H1200zM1208 195H1211V223H1208zM1215 195H1219V223H1215zM1224 195H1231V223H1224zM1257 195H1262V223H1257zM985 223H989V251H985zM995 223H997V251H995zM1007 223H1012V251H1007zM1028 223H1033V251H1028zM1043 223H1048V251H1043zM1075 223H1080V251H1075zM1106 223H1110V251H1106zM1117 223H1122V251H1117zM1136 223H1143V251H1136zM1201 223H1204V251H1201zM1211 223H1219V251H1211zM1224 223H1227V251H1224zM1239 223H1242V251H1239zM1250 223H1253V251H1250zM947 251H950V278H947zM968 251H971V278H968zM985 251H989V278H985zM1024 251H1033V278H1024zM1038 251H1043V278H1038zM1070 251H1075V278H1070zM1101 251H1104V278H1101zM1114 251H1116V278H1114zM1136 251H1140V278H1136zM1183 251H1187V278H1183zM932 305H937V333H932zM969 305H973V333H969zM1028 305H1033V333H1028zM1059 305H1063V333H1059zM1094 305H1096V333H1094zM1122 305H1125V333H1122zM1133 305H1138V333H1133zM1153 305H1161V333H1153zM1168 305H1172V333H1168zM969 333H973V361H969zM976 333H981V361H976zM1111 333H1113V361H1111zM1138 333H1142V361H1138zM1163 333H1168V361H1163z"/>
<path fill="#959595" d="M1050 42H1055V85H1050zM955 85H960V113H955zM1050 85H1055V113H1050zM1060 113H1066V141H1060zM1089 113H1094V141H1089zM1179 113H1183V141H1179zM1242 113H1246V141H1242zM1060 141H1066V168H1060zM1089 141H1094V168H1089zM1235 141H1239V168H1235zM1242 141H1246V168H1242zM1052 168H1055V195H1052zM1066 168H1070V195H1066zM1080 168H1085V195H1080zM1089 168H1094V195H1089zM1204 168H1208V195H1204zM1235 168H1239V195H1235zM965 195H968V223H965zM997 195H1002V223H997zM1012 195H1016V223H1012zM1021 195H1024V223H1021zM1052 195H1055V223H1052zM1066 195H1070V223H1066zM1197 195H1200V223H1197zM1231 195H1235V223H1231zM1246 195H1250V223H1246zM1253 195H1257V223H1253zM1262 195H1282V223H1262zM965 223H968V251H965zM971 223H975V251H971zM997 223H1000V251H997zM1002 223H1007V251H1002zM1021 223H1024V251H1021zM1048 223H1052V251H1048zM1066 223H1070V251H1066zM1085 223H1089V251H1085zM1098 223H1101V251H1098zM1110 223H1114V251H1110zM1197 223H1199V251H1197zM1208 223H1211V251H1208zM1227 223H1231V251H1227zM1257 223H1262V251H1257zM971 251H975V278H971zM995 251H1000V278H995zM1007 251H1012V278H1007zM1043 251H1048V278H1043zM1066 251H1070V278H1066zM1075 251H1080V278H1075zM1106 251H1110V278H1106zM1119 251H1122V278H1119zM1143 251H1148V278H1143zM1211 251H1219V278H1211zM1224 251H1227V278H1224zM1239 251H1242V278H1239zM1250 251H1253V278H1250zM927 278H932V305H927zM937 278H942V305H937zM947 278H950V305H947zM969 278H973V305H969zM985 278H990V305H985zM1038 278H1043V305H1038zM1131 278H1136V305H1131zM1173 278H1177V305H1173zM1213 278H1216V305H1213zM965 305H969V333H965zM985 305H990V333H985zM1024 305H1028V333H1024zM1038 305H1043V333H1038zM1052 305H1055V333H1052zM1129 305H1133V333H1129zM1172 305H1179V333H1172zM1213 305H1220V333H1213zM923 333H927V361H923zM965 333H969V361H965zM981 333H985V361H981zM1055 333H1063V361H1055zM1133 333H1138V361H1133zM1168 333H1172V361H1168zM1220 333H1224V361H1220zM912 361H917V372H912zM912 372H919V382H912zM937 382H1282V386H937z"/>
<path fill="#9e9e9e" d="M960 42H965V85H960zM1094 42H1098V85H1094zM960 85H965V113H960zM1094 85H1098V113H1094zM1016 113H1020V141H1016zM1050 113H1055V141H1050zM1050 141H1055V168H1050zM960 168H965V195H960zM1060 168H1066V195H1060zM1179 168H1183V195H1179zM1242 168H1246V195H1242zM950 195H955V223H950zM960 195H965V223H960zM1060 195H1066V223H1060zM1080 195H1085V223H1080zM1089 195H1094V223H1089zM1179 195H1183V223H1179zM1204 195H1208V223H1204zM1235 195H1239V223H1235zM960 223H965V251H960zM991 223H995V251H991zM1012 223H1016V251H1012zM1052 223H1055V251H1052zM1060 223H1066V251H1060zM1080 223H1085V251H1080zM1179 223H1183V251H1179zM1231 223H1235V251H1231zM1246 223H1250V251H1246zM1253 223H1257V251H1253zM965 251H968V278H965zM1002 251H1007V278H1002zM1021 251H1024V278H1021zM1048 251H1052V278H1048zM1060 251H1066V278H1060zM1085 251H1089V278H1085zM1098 251H1101V278H1098zM1110 251H1114V278H1110zM1197 251H1199V278H1197zM1201 251H1204V278H1201zM1208 251H1211V278H1208zM1227 251H1231V278H1227zM1253 251H1262V278H1253zM942 278H947V305H942zM999 278H1002V305H999zM1043 278H1048V305H1043zM1063 278H1073V305H1063zM1122 278H1131V305H1122zM1177 278H1182V305H1177zM1187 278H1189V305H1187zM1200 278H1204V305H1200zM1216 278H1220V305H1216zM1224 278H1227V305H1224zM927 305H932V333H927zM937 305H942V333H937zM947 305H950V333H947zM999 305H1002V333H999zM1033 305H1038V333H1033zM1043 305H1052V333H1043zM1063 305H1073V333H1063zM1125 305H1129V333H1125zM1150 305H1153V333H1150zM1200 305H1204V333H1200zM1209 305H1213V333H1209zM1224 305H1227V333H1224zM1235 305H1243V333H1235zM1252 305H1262V333H1252zM932 333H937V361H932zM985 333H990V361H985zM1024 333H1033V361H1024zM1052 333H1055V361H1052zM1063 333H1068V361H1063zM1094 333H1096V361H1094zM1104 333H1106V361H1104zM1129 333H1133V361H1129zM1159 333H1163V361H1159zM1176 333H1179V361H1176zM1200 333H1204V361H1200zM1213 333H1220V361H1213zM1224 333H1227V361H1224zM1235 333H1240V361H1235zM1252 333H1262V361H1252zM917 361H923V372H917z"/>
<path fill="#a6a6a6" d="M1143 42H1148V85H1143zM1192 42H1195V85H1192zM1192 85H1195V113H1192zM960 113H965V141H960zM1094 113H1098V141H1094zM960 141H965V168H960zM1016 141H1020V168H1016zM1179 141H1183V168H1179zM1016 168H1021V195H1016zM1016 195H1021V223H1016zM1242 195H1246V223H1242zM950 223H960V251H950zM1016 223H1021V251H1016zM1089 223H1094V251H1089zM1143 223H1148V251H1143zM1204 223H1208V251H1204zM1235 223H1239V251H1235zM1262 223H1282V251H1262zM955 251H965V278H955zM991 251H995V278H991zM1012 251H1016V278H1012zM1052 251H1055V278H1052zM1080 251H1085V278H1080zM1089 251H1094V278H1089zM1179 251H1183V278H1179zM1231 251H1239V278H1231zM1246 251H1250V278H1246zM1262 251H1282V278H1262zM955 278H960V305H955zM965 278H969V305H965zM995 278H999V305H995zM1021 278H1024V305H1021zM1048 278H1055V305H1048zM1073 278H1078V305H1073zM1083 278H1094V305H1083zM1096 278H1100V305H1096zM1106 278H1111V305H1106zM1113 278H1119V305H1113zM1147 278H1151V305H1147zM1182 278H1187V305H1182zM1197 278H1200V305H1197zM1209 278H1213V305H1209zM1227 278H1231V305H1227zM1240 278H1243V305H1240zM1252 278H1262V305H1252zM942 305H947V333H942zM958 305H965V333H958zM995 305H999V333H995zM1012 305H1016V333H1012zM1021 305H1024V333H1021zM1073 305H1078V333H1073zM1083 305H1094V333H1083zM1096 305H1100V333H1096zM1106 305H1111V333H1106zM1113 305H1119V333H1113zM1179 305H1184V333H1179zM1197 305H1200V333H1197zM1204 305H1209V333H1204zM1227 305H1235V333H1227zM1248 305H1252V333H1248zM1262 305H1282V333H1262zM947 333H950V361H947zM958 333H965V361H958zM999 333H1002V361H999zM1012 333H1016V361H1012zM1021 333H1024V361H1021zM1033 333H1052V361H1033zM1089 333H1094V361H1089zM1125 333H1129V361H1125zM1151 333H1155V361H1151zM1172 333H1176V361H1172zM1189 333H1192V361H1189zM1197 333H1200V361H1197zM1204 333H1213V361H1204zM1227 333H1235V361H1227zM1240 333H1243V361H1240zM1248 333H1252V361H1248zM1262 333H1282V361H1262zM973 361H981V372H973zM1055 361H1063V372H1055zM1122 361H1129V372H1122zM1138 361H1151V372H1138zM912 386H1282V404H912z"/>
<path fill="#afafaf" d="M955 113H960V141H955zM1192 113H1195V141H1192zM1094 141H1098V168H1094zM1192 141H1195V168H1192zM955 168H960V195H955zM1094 168H1098V195H1094zM1143 168H1148V195H1143zM1192 168H1197V195H1192zM955 195H960V223H955zM1094 195H1098V223H1094zM1143 195H1148V223H1143zM1192 195H1197V223H1192zM1094 223H1098V251H1094zM1192 223H1197V251H1192zM1242 223H1246V251H1242zM950 251H955V278H950zM1016 251H1021V278H1016zM1094 251H1098V278H1094zM1192 251H1197V278H1192zM1204 251H1208V278H1204zM1242 251H1246V278H1242zM950 278H955V305H950zM960 278H965V305H960zM990 278H995V305H990zM1002 278H1016V305H1002zM1078 278H1083V305H1078zM1100 278H1104V305H1100zM1119 278H1122V305H1119zM1231 278H1240V305H1231zM1248 278H1252V305H1248zM1262 278H1282V305H1262zM990 305H995V333H990zM1002 305H1012V333H1002zM1016 305H1021V333H1016zM1078 305H1083V333H1078zM1100 305H1104V333H1100zM1119 305H1122V333H1119zM1184 305H1189V333H1184zM1192 305H1197V333H1192zM1243 305H1248V333H1243zM927 333H932V361H927zM937 333H947V361H937zM995 333H999V361H995zM1007 333H1012V361H1007zM1016 333H1021V361H1016zM1068 333H1078V361H1068zM1083 333H1089V361H1083zM1096 333H1100V361H1096zM1106 333H1111V361H1106zM1113 333H1122V361H1113zM1155 333H1159V361H1155zM1179 333H1184V361H1179zM1192 333H1197V361H1192zM1243 333H1248V361H1243zM923 361H927V372H923zM965 361H973V372H965zM981 361H990V372H981zM1028 361H1038V372H1028zM1048 361H1055V372H1048zM1063 361H1073V372H1063zM1104 361H1114V372H1104zM1129 361H1138V372H1129zM1163 361H1179V372H1163zM1204 361H1247V372H1204z"/>
<path fill="#b8b8b8" d="M1143 85H1148V113H1143zM1143 113H1148V141H1143zM955 141H960V168H955zM1143 141H1148V168H1143zM1016 278H1021V305H1016zM1192 278H1197V305H1192zM1204 278H1209V305H1204zM1243 278H1248V305H1243zM950 305H958V333H950zM990 333H995V361H990zM1002 333H1007V361H1002zM1078 333H1083V361H1078zM1100 333H1104V361H1100zM1184 333H1189V361H1184zM958 361H965V372H958zM1012 361H1028V372H1012zM1038 361H1048V372H1038zM1073 361H1104V372H1073zM1114 361H1122V372H1114zM1151 361H1163V372H1151zM1192 361H1204V372H1192zM1247 361H1282V372H1247zM919 372H1282V382H919z"/>
<path fill="#c1c1c1" d="M927 361H950V372H927zM990 361H1012V372H990zM1179 361H1192V372H1179z"/>
<path fill="#cacaca" d="M950 333H958V361H950zM950 361H958V372H950z"/>
</g></g>
<g clip-path="url(#cpb2)"><g filter="url(#spec2b)">
<path fill="#7a7a7a" d="M912 382H937V386H912z"/>
<path fill="#838383" d="M895 363H912V372H895zM895 372H912V382H895zM895 382H912V386H895zM895 386H912V404H895z"/>
<path fill="#959595" d="M912 363H917V372H912zM912 372H919V382H912zM937 382H1282V386H937z"/>
<path fill="#9e9e9e" d="M917 363H923V372H917z"/>
<path fill="#a6a6a6" d="M973 363H981V372H973zM1055 363H1063V372H1055zM1122 363H1129V372H1122zM1138 363H1151V372H1138zM912 386H1282V404H912z"/>
<path fill="#afafaf" d="M923 363H927V372H923zM965 363H973V372H965zM981 363H990V372H981zM1028 363H1038V372H1028zM1048 363H1055V372H1048zM1063 363H1073V372H1063zM1104 363H1114V372H1104zM1129 363H1138V372H1129zM1163 363H1179V372H1163zM1204 363H1247V372H1204z"/>
<path fill="#b8b8b8" d="M958 363H965V372H958zM1012 363H1028V372H1012zM1038 363H1048V372H1038zM1073 363H1104V372H1073zM1114 363H1122V372H1114zM1151 363H1163V372H1151zM1192 363H1204V372H1192zM1247 363H1282V372H1247zM919 372H1282V382H919z"/>
<path fill="#c1c1c1" d="M927 363H950V372H927zM990 363H1012V372H990zM1179 363H1192V372H1179z"/>
<path fill="#cacaca" d="M950 363H958V372H950z"/>
</g></g>
<rect class="ln" x="911.60" y="58.50" width="353.70" height="329.10"/>
<path class="ln" d="M912.20 387.60v4.86M951.50 387.60v4.86M990.80 387.60v4.86M1030.10 387.60v4.86M1069.40 387.60v4.86M1108.70 387.60v4.86M1148.00 387.60v4.86M1187.30 387.60v4.86M1226.60 387.60v4.86M911.60 387.40h-4.86M911.60 346.30h-4.86M911.60 305.20h-4.86M911.60 264.10h-4.86M911.60 223.00h-4.86M911.60 181.90h-4.86M911.60 140.80h-4.86M911.60 99.70h-4.86M911.60 58.60h-4.86"/>
<text class="t10" x="912.20" y="409.0" text-anchor="middle" textLength="8.20" lengthAdjust="spacingAndGlyphs">0</text>
<text class="t10" x="951.50" y="409.0" text-anchor="middle" textLength="20.55" lengthAdjust="spacingAndGlyphs">1.5</text>
<text class="t10" x="990.80" y="409.0" text-anchor="middle" textLength="7.86" lengthAdjust="spacingAndGlyphs">3</text>
<text class="t10" x="1030.10" y="409.0" text-anchor="middle" textLength="21.40" lengthAdjust="spacingAndGlyphs">4.5</text>
<text class="t10" x="1069.40" y="409.0" text-anchor="middle" textLength="8.19" lengthAdjust="spacingAndGlyphs">6</text>
<text class="t10" x="1108.70" y="409.0" text-anchor="middle" textLength="20.94" lengthAdjust="spacingAndGlyphs">7.5</text>
<text class="t10" x="1148.00" y="409.0" text-anchor="middle" textLength="8.19" lengthAdjust="spacingAndGlyphs">9</text>
<text class="t10" x="1186.90" y="409.0" text-anchor="middle" textLength="16.43" lengthAdjust="spacingAndGlyphs">10</text>
<text class="t10" x="1225.40" y="409.0" text-anchor="middle" textLength="15.96" lengthAdjust="spacingAndGlyphs">12</text>
<text class="t10" x="902.20" y="393.90" text-anchor="end" textLength="8.20" lengthAdjust="spacingAndGlyphs">0</text>
<text class="t10" x="902.20" y="352.80" text-anchor="end" textLength="34.10" lengthAdjust="spacingAndGlyphs">1000</text>
<text class="t10" x="902.20" y="311.70" text-anchor="end" textLength="34.61" lengthAdjust="spacingAndGlyphs">2000</text>
<text class="t10" x="902.20" y="270.60" text-anchor="end" textLength="34.57" lengthAdjust="spacingAndGlyphs">3000</text>
<text class="t10" x="902.20" y="229.50" text-anchor="end" textLength="34.94" lengthAdjust="spacingAndGlyphs">4000</text>
<text class="t10" x="902.20" y="188.40" text-anchor="end" textLength="34.55" lengthAdjust="spacingAndGlyphs">5000</text>
<text class="t10" x="902.20" y="147.30" text-anchor="end" textLength="34.65" lengthAdjust="spacingAndGlyphs">6000</text>
<text class="t10" x="902.20" y="106.20" text-anchor="end" textLength="34.48" lengthAdjust="spacingAndGlyphs">7000</text>
<text class="t10" x="902.20" y="65.10" text-anchor="end" textLength="34.68" lengthAdjust="spacingAndGlyphs">8000</text>
<text class="t12" x="1087.75" y="431.8" text-anchor="middle" textLength="67" lengthAdjust="spacingAndGlyphs">Time (s)</text>
</g>
<text class="t12" transform="translate(22.8 223.9) rotate(-90)" text-anchor="middle" textLength="124.6" lengthAdjust="spacingAndGlyphs">Frequency (Hz)</text>
<g id="colorbar">
<rect x="1327.50" y="33.50" width="30.00" height="371.80" fill="url(#cb)"/>
<rect class="ln" x="1327.50" y="33.50" width="30.00" height="371.80"/>
<path class="ln" d="M1357.50 33.50h4.86M1357.50 95.47h4.86M1357.50 157.43h4.86M1357.50 219.40h4.86M1357.50 281.37h4.86M1357.50 343.33h4.86M1357.50 405.30h4.86"/>
<text class="t10" x="1367.50" y="39.10" textLength="8.20" lengthAdjust="spacingAndGlyphs">0</text>
<text class="t10" x="1367.50" y="101.07" textLength="28.12" lengthAdjust="spacingAndGlyphs">−20</text>
<text class="t10" x="1367.50" y="163.03" textLength="28.12" lengthAdjust="spacingAndGlyphs">−40</text>
<text class="t10" x="1367.50" y="225.00" textLength="28.12" lengthAdjust="spacingAndGlyphs">−60</text>
<text class="t10" x="1367.50" y="286.97" textLength="28.12" lengthAdjust="spacingAndGlyphs">−80</text>
<text class="t10" x="1367.50" y="348.93" textLength="36.95" lengthAdjust="spacingAndGlyphs">−100</text>
<text class="t10" x="1367.50" y="410.90" textLength="36.95" lengthAdjust="spacingAndGlyphs">−120</text>
<text class="t12" transform="translate(1423.2 220.6) rotate(-90)" text-anchor="middle" textLength="214" lengthAdjust="spacingAndGlyphs">Level (dB rel. global max)</text>
</g>
</svg>
</body></html>
